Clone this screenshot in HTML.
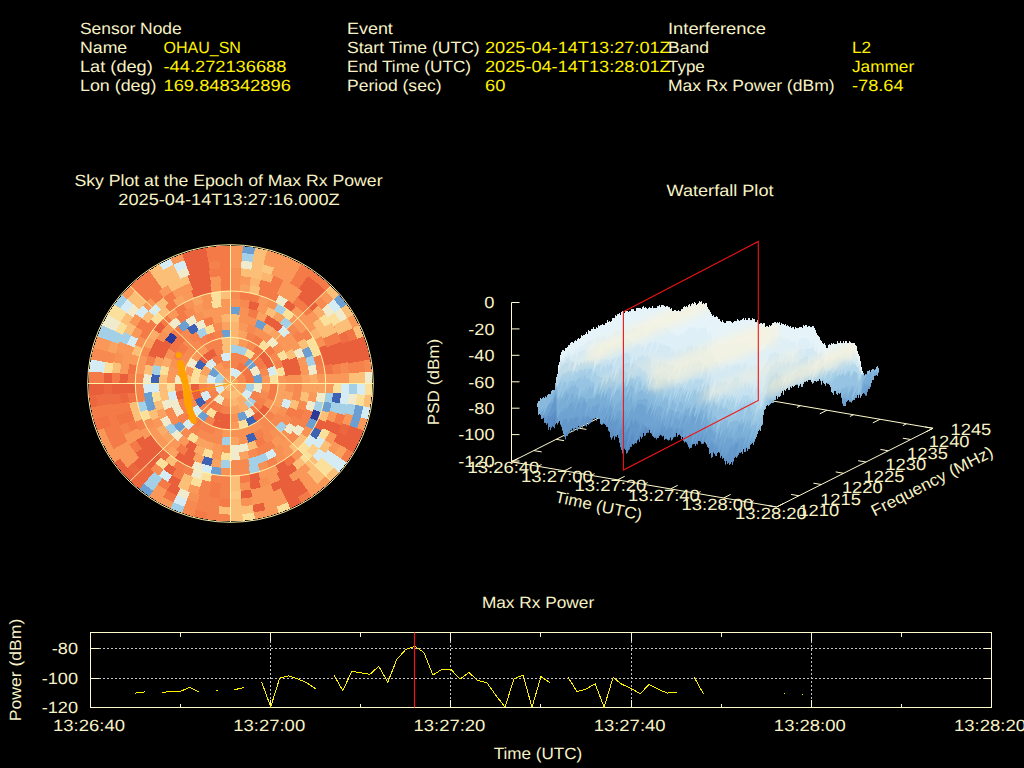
<!DOCTYPE html>
<html><head><meta charset="utf-8"><title>Interference Event</title>
<style>
html,body{margin:0;padding:0;background:#000;overflow:hidden}
svg{display:block}
text{font-family:"Liberation Sans",sans-serif;text-rendering:geometricPrecision;}
</style></head><body>
<svg width="1024" height="768" viewBox="0 0 1024 768">
<rect width="1024" height="768" fill="#000"/>
<text transform="translate(80.00,34.00)" x="0.00" y="0" textLength="101.72" lengthAdjust="spacingAndGlyphs" fill="#f7f2c6" font-size="16.3">Sensor Node</text>
<text transform="translate(80.00,53.00)" x="0.00" y="0" textLength="47.22" lengthAdjust="spacingAndGlyphs" fill="#f7f2c6" font-size="16.3">Name</text>
<text transform="translate(163.50,53.00)" x="0.00" y="0" textLength="77.42" lengthAdjust="spacingAndGlyphs" fill="#fff200" font-size="16.3">OHAU_SN</text>
<text transform="translate(80.00,72.00)" x="0.00" y="0" textLength="72.77" lengthAdjust="spacingAndGlyphs" fill="#f7f2c6" font-size="16.3">Lat (deg)</text>
<text transform="translate(163.50,72.00)" x="0.00" y="0" textLength="122.94" lengthAdjust="spacingAndGlyphs" fill="#fff200" font-size="16.3">-44.272136688</text>
<text transform="translate(80.00,91.00)" x="0.00" y="0" textLength="76.33" lengthAdjust="spacingAndGlyphs" fill="#f7f2c6" font-size="16.3">Lon (deg)</text>
<text transform="translate(163.50,91.00)" x="0.00" y="0" textLength="127.34" lengthAdjust="spacingAndGlyphs" fill="#fff200" font-size="16.3">169.848342896</text>
<text transform="translate(347.00,34.00)" x="0.00" y="0" textLength="45.84" lengthAdjust="spacingAndGlyphs" fill="#f7f2c6" font-size="16.3">Event</text>
<text transform="translate(347.00,53.00)" x="0.00" y="0" textLength="132.72" lengthAdjust="spacingAndGlyphs" fill="#f7f2c6" font-size="16.3">Start Time (UTC)</text>
<text transform="translate(485.00,53.00)" x="0.00" y="0" textLength="185.72" lengthAdjust="spacingAndGlyphs" fill="#fff200" font-size="16.3">2025-04-14T13:27:01Z</text>
<text transform="translate(347.00,72.00)" x="0.00" y="0" textLength="124.02" lengthAdjust="spacingAndGlyphs" fill="#f7f2c6" font-size="16.3">End Time (UTC)</text>
<text transform="translate(485.00,72.00)" x="0.00" y="0" textLength="185.72" lengthAdjust="spacingAndGlyphs" fill="#fff200" font-size="16.3">2025-04-14T13:28:01Z</text>
<text transform="translate(347.00,91.00)" x="0.00" y="0" textLength="94.50" lengthAdjust="spacingAndGlyphs" fill="#f7f2c6" font-size="16.3">Period (sec)</text>
<text transform="translate(485.00,91.00)" x="0.00" y="0" textLength="20.38" lengthAdjust="spacingAndGlyphs" fill="#fff200" font-size="16.3">60</text>
<text transform="translate(668.00,34.00)" x="0.00" y="0" textLength="97.91" lengthAdjust="spacingAndGlyphs" fill="#f7f2c6" font-size="16.3">Interference</text>
<text transform="translate(668.00,53.00)" x="0.00" y="0" textLength="41.09" lengthAdjust="spacingAndGlyphs" fill="#f7f2c6" font-size="16.3">Band</text>
<text transform="translate(852.00,53.00)" x="0.00" y="0" textLength="19.11" lengthAdjust="spacingAndGlyphs" fill="#fff200" font-size="16.3">L2</text>
<text transform="translate(668.00,72.00)" x="0.00" y="0" textLength="36.77" lengthAdjust="spacingAndGlyphs" fill="#f7f2c6" font-size="16.3">Type</text>
<text transform="translate(852.00,72.00)" x="0.00" y="0" textLength="62.14" lengthAdjust="spacingAndGlyphs" fill="#fff200" font-size="16.3">Jammer</text>
<text transform="translate(668.00,91.00)" x="0.00" y="0" textLength="166.61" lengthAdjust="spacingAndGlyphs" fill="#f7f2c6" font-size="16.3">Max Rx Power (dBm)</text>
<text transform="translate(852.00,91.00)" x="0.00" y="0" textLength="51.62" lengthAdjust="spacingAndGlyphs" fill="#fff200" font-size="16.3">-78.64</text>
<text transform="translate(228.50,186.00)" x="-154.08" y="0" textLength="308.16" lengthAdjust="spacingAndGlyphs" fill="#f7f2c6" font-size="16.3">Sky Plot at the Epoch of Max Rx Power</text>
<text transform="translate(229.00,205.00)" x="-110.69" y="0" textLength="221.38" lengthAdjust="spacingAndGlyphs" fill="#f7f2c6" font-size="16.3">2025-04-14T13:27:16.000Z</text>
<text transform="translate(720.00,196.00)" x="-53.48" y="0" textLength="106.97" lengthAdjust="spacingAndGlyphs" fill="#f7f2c6" font-size="16.3">Waterfall Plot</text>
<text transform="translate(538.00,608.00)" x="-56.14" y="0" textLength="112.28" lengthAdjust="spacingAndGlyphs" fill="#f7f2c6" font-size="16.3">Max Rx Power</text>
<text transform="translate(538.00,759.00)" x="-44.26" y="0" textLength="88.52" lengthAdjust="spacingAndGlyphs" fill="#f7f2c6" font-size="16.3">Time (UTC)</text>
<text transform="translate(21.00,670.00) rotate(-90)" x="-51.37" y="0" textLength="102.73" lengthAdjust="spacingAndGlyphs" fill="#f7f2c6" font-size="16.3">Power (dBm)</text>
<ellipse cx="230.5" cy="383.5" rx="141.3" ry="137.3" fill="#f58a50"/>
<g shape-rendering="crispEdges">
<path fill="#f99858" d="M230.5 245.7L242.9 246.2L242.3 252.9L230.5 252.4ZM267.2 250.4L279.0 254.0L276.6 260.3L265.4 256.9ZM279.0 254.0L290.4 258.6L287.5 264.7L276.6 260.3ZM290.4 258.6L301.4 264.1L297.9 270.0L287.5 264.7ZM353.3 314.6L359.0 325.3L352.7 328.1L347.3 318.0ZM367.5 419.2L363.7 430.6L357.2 428.3L360.8 417.4ZM330.8 481.0L321.6 489.1L317.2 483.9L325.9 476.2ZM321.6 489.1L311.8 496.4L307.9 490.9L317.2 483.9ZM279.0 513.0L267.2 516.6L265.4 510.1L276.6 506.7ZM267.2 516.6L255.1 519.2L253.9 512.6L265.4 510.1ZM170.6 508.4L159.6 502.9L163.1 497.0L173.5 502.3ZM159.6 502.9L149.2 496.4L153.1 490.9L163.1 497.0ZM114.3 462.6L107.7 452.4L113.7 449.0L120.0 458.7ZM107.7 452.4L102.0 441.7L108.3 438.9L113.7 449.0ZM102.0 441.7L97.3 430.6L103.8 428.3L108.3 438.9ZM93.5 347.8L97.3 336.4L103.8 338.7L100.2 349.6ZM121.9 294.9L130.2 286.0L135.1 290.8L127.2 299.2ZM170.6 258.6L182.0 254.0L184.4 260.3L173.5 264.7ZM230.5 252.4L242.3 252.9L241.6 260.6L230.5 260.1ZM265.4 256.9L276.6 260.3L273.9 267.6L263.4 264.3ZM276.6 260.3L287.5 264.7L284.1 271.7L273.9 267.6ZM287.5 264.7L297.9 270.0L294.0 276.7L284.1 271.7ZM325.9 290.8L333.8 299.2L327.7 304.2L320.3 296.3ZM317.2 483.9L307.9 490.9L303.3 484.6L312.1 478.0ZM287.5 502.3L276.6 506.7L273.9 499.4L284.1 495.3ZM276.6 506.7L265.4 510.1L263.4 502.7L273.9 499.4ZM163.1 497.0L153.1 490.9L157.7 484.6L167.0 490.3ZM127.2 467.8L120.0 458.7L126.5 454.3L133.3 462.8ZM120.0 458.7L113.7 449.0L120.6 445.2L126.5 454.3ZM100.2 349.6L103.8 338.7L111.2 341.3L107.9 351.6ZM230.5 260.1L241.6 260.6L240.9 268.3L230.5 267.8ZM273.9 267.6L284.1 271.7L280.8 278.7L271.2 274.8ZM284.1 271.7L294.0 276.7L290.0 283.3L280.8 278.7ZM353.1 415.4L349.8 425.7L342.3 423.1L345.4 413.4ZM340.4 445.2L334.5 454.3L328.0 449.8L333.6 441.3ZM312.1 478.0L303.3 484.6L298.8 478.2L307.0 472.1ZM284.1 495.3L273.9 499.4L271.2 492.2L280.8 488.3ZM273.9 499.4L263.4 502.7L261.3 495.2L271.2 492.2ZM263.4 502.7L252.5 505.0L251.2 497.4L261.3 495.2ZM133.3 462.8L126.5 454.3L133.0 449.8L139.3 457.8ZM126.5 454.3L120.6 445.2L127.4 441.3L133.0 449.8ZM283.5 280.0L293.1 285.2L289.0 291.7L280.0 286.9ZM293.1 285.2L302.2 291.2L297.4 297.3L289.0 291.7ZM349.0 372.8L349.5 383.5L341.6 383.5L341.1 373.5ZM337.0 435.1L331.7 444.4L324.9 440.3L329.9 431.6ZM310.7 469.0L302.2 475.8L297.4 469.7L305.3 463.3ZM302.2 475.8L293.1 481.8L289.0 475.3L297.4 469.7ZM273.5 491.4L263.1 494.8L260.9 487.3L270.6 484.2ZM263.1 494.8L252.4 497.2L250.9 489.6L260.9 487.3ZM197.9 494.8L187.5 491.4L190.4 484.2L200.1 487.3ZM129.3 444.4L124.0 435.1L131.1 431.6L136.1 440.3ZM116.0 351.8L119.5 341.7L126.9 344.5L123.7 354.0ZM129.3 322.6L135.5 313.8L141.9 318.4L136.1 326.7ZM142.6 305.6L150.3 298.0L155.7 303.7L148.4 310.8ZM158.8 291.2L167.9 285.2L172.0 291.7L163.6 297.3ZM240.7 276.0L250.9 277.4L249.5 285.0L240.0 283.7ZM280.0 286.9L289.0 291.7L284.8 298.3L276.5 293.8ZM289.0 291.7L297.4 297.3L292.7 303.5L284.8 298.3ZM312.6 310.8L319.1 318.4L312.8 323.1L306.7 316.0ZM341.1 373.5L341.6 383.5L333.6 383.5L333.2 374.3ZM337.3 413.0L334.1 422.5L326.7 419.7L329.7 410.9ZM280.0 480.1L270.6 484.2L267.8 477.0L276.5 473.2ZM136.1 440.3L131.1 431.6L138.2 428.2L142.8 436.3ZM119.9 373.5L121.3 363.7L129.1 365.1L127.8 374.3ZM121.3 363.7L123.7 354.0L131.3 356.1L129.1 365.1ZM123.7 354.0L126.9 344.5L134.3 347.3L131.3 356.1ZM131.1 335.4L136.1 326.7L142.8 330.7L138.2 338.8ZM172.0 291.7L181.0 286.9L184.5 293.8L176.2 298.3ZM181.0 286.9L190.4 282.8L193.2 290.0L184.5 293.8ZM210.1 277.4L220.3 276.0L221.0 283.7L211.5 285.0ZM295.9 306.0L303.4 312.6L297.8 318.1L290.9 312.0ZM303.4 312.6L310.2 319.9L304.1 324.8L297.8 318.1ZM310.2 319.9L316.3 327.8L309.7 332.1L304.1 324.8ZM333.1 373.7L333.6 383.5L325.7 383.5L325.2 374.4ZM333.6 383.5L333.1 393.3L325.2 392.6L325.7 383.5ZM303.4 454.4L295.9 461.0L290.9 455.0L297.8 448.9ZM279.1 471.9L270.0 476.1L266.9 469.0L275.4 465.1ZM270.0 476.1L260.4 479.4L258.1 472.0L266.9 469.0ZM144.7 439.2L139.5 430.8L146.5 427.1L151.3 434.9ZM129.3 363.9L131.8 354.4L139.4 356.6L137.1 365.4ZM181.9 295.1L191.0 290.9L194.1 298.0L185.6 301.9ZM210.4 285.2L220.4 283.7L221.2 291.4L211.9 292.7ZM259.9 295.5L269.2 299.0L266.0 306.0L257.5 302.8ZM294.2 314.7L301.2 321.6L295.4 326.7L288.9 320.5ZM301.2 321.6L307.5 329.1L301.1 333.6L295.4 326.7ZM325.2 373.8L325.7 383.5L317.8 383.5L317.3 374.6ZM294.2 452.3L286.5 458.4L281.8 452.1L288.9 446.5ZM166.8 452.3L159.8 445.4L165.6 440.3L172.1 446.5ZM159.8 445.4L153.5 437.9L159.9 433.4L165.6 440.3ZM153.5 437.9L148.1 429.8L154.9 425.9L159.9 433.4ZM135.8 373.8L137.4 364.3L145.1 365.9L143.7 374.6ZM137.4 364.3L140.0 354.9L147.5 357.3L145.1 365.9ZM166.8 314.7L174.5 308.6L179.2 314.9L172.1 320.5ZM259.3 303.4L268.4 307.1L264.9 314.0L256.7 310.7ZM317.2 393.0L315.6 402.4L307.8 400.7L309.3 392.1ZM292.2 443.5L284.9 449.8L280.0 443.8L286.6 438.0ZM176.1 449.8L168.8 443.5L174.4 438.0L181.0 443.8ZM156.6 428.6L151.9 420.3L159.0 417.0L163.3 424.5ZM162.3 330.6L168.8 323.5L174.4 329.0L168.5 335.4ZM192.6 307.1L201.7 303.4L204.3 310.7L196.1 314.0ZM220.7 299.2L230.5 298.7L230.5 306.4L221.6 306.9ZM289.9 332.4L295.8 339.7L289.3 344.1L283.9 337.5ZM295.8 339.7L300.7 347.7L293.7 351.2L289.3 344.1ZM304.7 356.2L307.5 365.0L299.8 366.9L297.3 358.9ZM307.5 365.0L309.3 374.2L301.4 375.1L299.8 366.9ZM283.1 441.2L275.6 447.0L271.1 440.6L277.8 435.4ZM220.9 460.0L211.5 458.4L213.4 450.9L221.9 452.4ZM185.4 447.0L177.9 441.2L183.2 435.4L189.9 440.6ZM202.4 311.4L211.5 308.6L213.4 316.1L205.2 318.6ZM211.5 308.6L220.9 307.0L221.9 314.6L213.4 316.1ZM220.9 307.0L230.5 306.4L230.5 314.1L221.9 314.6ZM281.0 334.4L287.1 341.3L280.9 345.9L275.4 339.9ZM287.1 341.3L292.3 348.8L285.5 352.7L280.9 345.9ZM221.2 452.3L212.0 450.5L214.1 443.1L222.2 444.7ZM212.0 316.5L221.2 314.7L222.2 322.3L214.1 323.9ZM239.5 322.4L248.4 324.3L246.1 331.7L238.4 330.1ZM167.0 383.5L167.7 374.7L175.5 375.8L175.0 383.5ZM167.7 374.7L169.6 366.1L177.2 368.3L175.5 375.8ZM285.3 375.1L286.0 383.5L278.1 383.5L277.5 376.3ZM280.0 408.0L275.4 415.2L269.0 410.7L272.9 404.5ZM230.5 437.5L221.8 436.8L223.1 429.2L230.5 429.8ZM175.7 375.1L177.7 366.8L185.2 369.2L183.5 376.3ZM239.8 338.1L244.3 339.2L248.7 340.8L245.7 347.9L242.0 346.6L238.2 345.7ZM239.8 428.9L235.2 429.5L230.5 429.8L230.5 422.1L234.4 421.9L238.2 421.3ZM183.8 374.5L184.9 370.1L186.5 365.8L193.9 368.7L192.5 372.3L191.6 376.0ZM190.9 357.8L193.7 354.1L196.8 350.8L202.5 356.2L199.8 359.0L197.5 362.1ZM196.8 350.8L200.3 347.7L204.1 345.0L208.5 351.4L205.3 353.7L202.5 356.2ZM269.2 374.9L269.9 379.2L270.2 383.5L262.2 383.5L262.0 380.0L261.4 376.6ZM270.2 383.5L269.9 387.8L269.2 392.1L261.4 390.4L262.0 387.0L262.2 383.5ZM213.7 367.1L217.3 364.3L221.4 362.1L224.4 369.3L221.7 370.7L219.3 372.6ZM219.3 372.6L221.7 370.7L224.4 369.3L227.4 368.4L230.5 368.1L230.5 375.8L229.0 375.9L227.5 376.4L226.1 377.1L224.9 378.0Z"/>
<path fill="#6b9fd1" d="M242.9 246.2L255.1 247.8L253.9 254.4L242.3 252.9ZM339.1 294.9L346.7 304.4L341.0 308.3L333.8 299.2ZM149.2 496.4L139.4 489.1L143.8 483.9L153.1 490.9ZM363.3 406.3L360.8 417.4L353.1 415.4L355.5 404.9ZM360.8 417.4L357.2 428.3L349.8 425.7L353.1 415.4ZM331.7 403.1L329.2 412.6L321.6 410.4L323.9 401.6ZM317.5 421.1L312.9 429.8L306.1 425.9L310.2 418.0ZM220.5 475.5L210.7 474.0L212.4 466.5L221.4 467.9ZM309.1 346.7L312.9 355.5L305.4 358.0L302.0 350.0ZM148.1 411.5L145.4 402.4L153.2 400.7L155.6 409.0ZM145.4 402.4L143.8 393.0L151.7 392.1L153.2 400.7ZM230.5 306.4L240.1 307.0L239.1 314.6L230.5 314.1ZM177.9 325.8L185.4 320.0L189.9 326.4L183.2 331.6ZM257.8 319.4L266.2 323.4L262.2 330.1L254.8 326.5ZM180.0 432.6L173.9 425.7L180.1 421.1L185.6 427.1ZM221.8 330.2L230.5 329.5L230.5 337.2L223.1 337.8ZM204.1 422.0L200.3 419.3L196.8 416.2L202.5 410.8L205.3 413.3L208.5 415.6ZM247.7 418.2L243.6 419.9L239.3 421.1L237.6 413.6L241.0 412.6L244.3 411.3ZM249.2 358.5L252.9 361.7L256.2 365.4L249.8 369.9L247.3 367.1L244.5 364.8ZM260.7 374.0L261.8 378.7L262.2 383.5L254.3 383.5L254.0 379.9L253.1 376.4ZM208.5 374.6L210.7 370.6L213.7 367.1L219.3 372.6L217.3 374.9L215.8 377.6Z"/>
<path fill="#fcbf77" d="M255.1 247.8L267.2 250.4L265.4 256.9L253.9 254.4ZM330.8 286.0L339.1 294.9L333.8 299.2L325.9 290.8ZM346.7 304.4L353.3 314.6L347.3 318.0L341.0 308.3ZM359.0 325.3L363.7 336.4L357.2 338.7L352.7 328.1ZM371.8 395.5L370.1 407.4L363.3 406.3L364.9 394.9ZM339.1 472.1L330.8 481.0L325.9 476.2L333.8 467.8ZM242.9 520.8L230.5 521.3L230.5 514.6L242.3 514.1ZM149.2 270.6L159.6 264.1L163.1 270.0L153.1 276.1ZM253.9 254.4L265.4 256.9L263.4 264.3L252.5 262.0ZM347.3 318.0L352.7 328.1L345.5 331.4L340.4 321.8ZM364.9 372.1L365.4 383.5L357.4 383.5L357.0 372.7ZM325.9 476.2L317.2 483.9L312.1 478.0L320.3 470.7ZM253.9 512.6L242.3 514.1L241.6 506.4L252.5 505.0ZM242.3 514.1L230.5 514.6L230.5 506.9L241.6 506.4ZM230.5 514.6L218.7 514.1L219.4 506.4L230.5 506.9ZM127.2 299.2L135.1 290.8L140.7 296.3L133.3 304.2ZM153.1 276.1L163.1 270.0L167.0 276.7L157.7 282.4ZM163.1 270.0L173.5 264.7L176.9 271.7L167.0 276.7ZM252.5 262.0L263.4 264.3L261.3 271.8L251.2 269.6ZM340.4 321.8L345.5 331.4L338.4 334.6L333.6 325.7ZM357.0 372.7L357.4 383.5L349.5 383.5L349.0 373.4ZM320.3 470.7L312.1 478.0L307.0 472.1L314.6 465.3ZM241.6 506.4L230.5 506.9L230.5 499.2L240.9 498.7ZM120.6 321.8L126.5 312.7L133.0 317.2L127.4 325.7ZM133.3 304.2L140.7 296.3L146.4 301.7L139.3 309.2ZM157.7 282.4L167.0 276.7L171.0 283.3L162.2 288.8ZM167.0 276.7L176.9 271.7L180.2 278.7L171.0 283.3ZM241.5 268.3L252.4 269.8L250.9 277.4L240.7 276.0ZM252.4 269.8L263.1 272.2L260.9 279.7L250.9 277.4ZM331.7 322.6L337.0 331.9L329.9 335.4L324.9 326.7ZM331.7 444.4L325.5 453.2L319.1 448.6L324.9 440.3ZM318.4 461.4L310.7 469.0L305.3 463.3L312.6 456.2ZM187.5 491.4L177.5 487.0L181.0 480.1L190.4 484.2ZM112.0 372.8L113.5 362.2L121.3 363.7L119.9 373.5ZM124.0 331.9L129.3 322.6L136.1 326.7L131.1 335.4ZM167.9 285.2L177.5 280.0L181.0 286.9L172.0 291.7ZM177.5 280.0L187.5 275.6L190.4 282.8L181.0 286.9ZM319.1 318.4L324.9 326.7L318.2 330.7L312.8 323.1ZM324.9 326.7L329.9 335.4L322.8 338.8L318.2 330.7ZM305.3 463.3L297.4 469.7L292.7 463.5L300.0 457.6ZM240.7 491.0L230.5 491.5L230.5 483.7L240.0 483.3ZM190.4 484.2L181.0 480.1L184.5 473.2L193.2 477.0ZM141.9 318.4L148.4 310.8L154.3 316.0L148.2 323.1ZM155.7 303.7L163.6 297.3L168.3 303.5L161.0 309.4ZM250.6 285.2L260.4 287.6L258.1 295.0L249.1 292.7ZM329.2 412.6L325.8 421.9L318.5 418.9L321.6 410.4ZM240.6 483.3L230.5 483.7L230.5 476.0L239.8 475.6ZM173.2 466.9L165.1 461.0L170.1 455.0L177.6 460.4ZM135.2 421.9L131.8 412.6L139.4 410.4L142.5 418.9ZM131.8 412.6L129.3 403.1L137.1 401.6L139.4 410.4ZM131.8 354.4L135.2 345.1L142.5 348.1L139.4 356.6ZM157.6 312.6L165.1 306.0L170.1 312.0L163.2 318.1ZM307.5 437.9L301.2 445.4L295.4 440.3L301.1 433.4ZM301.2 445.4L294.2 452.3L288.9 446.5L295.4 440.3ZM220.5 291.5L230.5 291.0L230.5 298.7L221.4 299.1ZM268.4 307.1L276.9 311.7L272.7 318.2L264.9 314.0ZM304.4 338.4L309.1 346.7L302.0 350.0L297.7 342.5ZM151.9 420.3L148.1 411.5L155.6 409.0L159.0 417.0ZM143.8 374.0L145.4 364.6L153.2 366.3L151.7 374.9ZM309.3 392.8L307.5 402.0L299.8 400.1L301.4 391.9ZM156.3 410.8L153.5 402.0L161.2 400.1L163.7 408.1ZM230.5 314.1L239.8 314.7L238.8 322.3L230.5 321.8ZM292.3 348.8L296.5 356.9L289.1 359.9L285.5 352.7ZM299.5 401.5L296.5 410.1L289.1 407.1L291.8 399.5ZM257.8 447.6L249.0 450.5L246.9 443.1L254.8 440.5ZM161.5 401.5L159.7 392.6L167.6 391.6L169.2 399.5ZM159.7 392.6L159.1 383.5L167.0 383.5L167.6 391.6ZM159.1 383.5L159.7 374.4L167.6 375.4L167.0 383.5ZM230.5 337.2L235.2 337.5L239.8 338.1L238.2 345.7L234.4 345.1L230.5 344.9ZM182.9 383.5L183.1 379.0L183.8 374.5L191.6 376.0L191.0 379.7L190.8 383.5ZM221.2 338.1L225.8 337.5L230.5 337.2L230.5 344.9L226.6 345.1L222.8 345.7ZM221.7 345.9L226.1 345.2L230.5 344.9L230.5 352.7L226.9 352.8L223.4 353.4ZM198.8 383.5L199.2 378.7L200.3 374.0L207.9 376.4L207.0 379.9L206.7 383.5ZM241.7 394.4L239.3 396.3L236.6 397.7L233.6 398.6L230.5 398.9L230.5 391.2L232.0 391.1L233.5 390.6L234.9 389.9L236.1 389.0Z"/>
<path fill="#f47b48" d="M301.4 264.1L311.8 270.6L307.9 276.1L297.9 270.0ZM311.8 270.6L321.6 277.9L317.2 283.1L307.9 276.1ZM321.6 277.9L330.8 286.0L325.9 290.8L317.2 283.1ZM353.3 452.4L346.7 462.6L341.0 458.7L347.3 449.0ZM311.8 496.4L301.4 502.9L297.9 497.0L307.9 490.9ZM205.9 519.2L193.8 516.6L195.6 510.1L207.1 512.6ZM93.5 419.2L90.9 407.4L97.7 406.3L100.2 417.4ZM88.7 383.5L89.2 371.5L96.1 372.1L95.6 383.5ZM130.2 286.0L139.4 277.9L143.8 283.1L135.1 290.8ZM139.4 277.9L149.2 270.6L153.1 276.1L143.8 283.1ZM205.9 247.8L218.1 246.2L218.7 252.9L207.1 254.4ZM218.1 246.2L230.5 245.7L230.5 252.4L218.7 252.9ZM297.9 270.0L307.9 276.1L303.3 282.4L294.0 276.7ZM113.7 449.0L108.3 438.9L115.5 435.6L120.6 445.2ZM108.3 438.9L103.8 428.3L111.2 425.7L115.5 435.6ZM100.2 417.4L97.7 406.3L105.5 404.9L107.9 415.4ZM95.6 383.5L96.1 372.1L104.0 372.7L103.6 383.5ZM135.1 290.8L143.8 283.1L148.9 289.0L140.7 296.3ZM143.8 283.1L153.1 276.1L157.7 282.4L148.9 289.0ZM207.1 254.4L218.7 252.9L219.4 260.6L208.5 262.0ZM218.7 252.9L230.5 252.4L230.5 260.1L219.4 260.6ZM294.0 276.7L303.3 282.4L298.8 288.8L290.0 283.3ZM230.5 506.9L219.4 506.4L220.1 498.7L230.5 499.2ZM167.0 490.3L157.7 484.6L162.2 478.2L171.0 483.7ZM120.6 445.2L115.5 435.6L122.6 432.4L127.4 441.3ZM115.5 435.6L111.2 425.7L118.7 423.1L122.6 432.4ZM111.2 425.7L107.9 415.4L115.6 413.4L118.7 423.1ZM107.9 415.4L105.5 404.9L113.3 403.6L115.6 413.4ZM140.7 296.3L148.9 289.0L154.0 294.9L146.4 301.7ZM148.9 289.0L157.7 282.4L162.2 288.8L154.0 294.9ZM219.4 260.6L230.5 260.1L230.5 267.8L220.1 268.3ZM273.5 275.6L283.5 280.0L280.0 286.9L270.6 282.8ZM337.0 331.9L341.5 341.7L334.1 344.5L329.9 335.4ZM345.0 415.2L341.5 425.3L334.1 422.5L337.3 413.0ZM219.5 498.7L208.6 497.2L210.1 489.6L220.3 491.0ZM135.5 453.2L129.3 444.4L136.1 440.3L141.9 448.6ZM116.0 415.2L113.5 404.8L121.3 403.3L123.7 413.0ZM111.5 383.5L112.0 372.8L119.9 373.5L119.4 383.5ZM150.3 298.0L158.8 291.2L163.6 297.3L155.7 303.7ZM208.6 269.8L219.5 268.3L220.3 276.0L210.1 277.4ZM219.5 268.3L230.5 267.8L230.5 275.5L220.3 276.0ZM260.9 279.7L270.6 282.8L267.8 290.0L258.7 287.1ZM270.6 282.8L280.0 286.9L276.5 293.8L267.8 290.0ZM297.4 297.3L305.3 303.7L300.0 309.4L292.7 303.5ZM305.3 303.7L312.6 310.8L306.7 316.0L300.0 309.4ZM329.9 335.4L334.1 344.5L326.7 347.3L322.8 338.8ZM220.3 491.0L210.1 489.6L211.5 482.0L221.0 483.3ZM181.0 480.1L172.0 475.3L176.2 468.7L184.5 473.2ZM131.1 431.6L126.9 422.5L134.3 419.7L138.2 428.2ZM123.7 413.0L121.3 403.3L129.1 401.9L131.3 410.9ZM136.1 326.7L141.9 318.4L148.2 323.1L142.8 330.7ZM163.6 297.3L172.0 291.7L176.2 298.3L168.3 303.5ZM220.3 276.0L230.5 275.5L230.5 283.3L221.0 283.7ZM260.4 287.6L270.0 290.9L266.9 298.0L258.1 295.0ZM270.0 290.9L279.1 295.1L275.4 301.9L266.9 298.0ZM250.6 481.8L240.6 483.3L239.8 475.6L249.1 474.3ZM181.9 471.9L173.2 466.9L177.6 460.4L185.6 465.1ZM127.4 383.5L127.9 373.7L135.8 374.4L135.3 383.5ZM139.5 336.2L144.7 327.8L151.3 332.1L146.5 339.9ZM144.7 327.8L150.8 319.9L156.9 324.8L151.3 332.1ZM165.1 306.0L173.2 300.1L177.6 306.6L170.1 312.0ZM220.4 283.7L230.5 283.3L230.5 291.0L221.2 291.4ZM240.5 291.5L250.3 293.0L248.6 300.5L239.6 299.1ZM250.3 293.0L259.9 295.5L257.5 302.8L248.6 300.5ZM321.0 354.9L323.6 364.3L315.9 365.9L313.5 357.3ZM159.8 321.6L166.8 314.7L172.1 320.5L165.6 326.7ZM174.5 308.6L182.9 303.4L186.9 310.0L179.2 314.9ZM184.1 455.3L176.1 449.8L181.0 443.8L188.3 448.8ZM176.1 317.2L184.1 311.7L188.3 318.2L181.0 323.2ZM249.5 308.6L258.6 311.4L255.8 318.6L247.6 316.1ZM304.7 410.8L300.7 419.3L293.7 415.8L297.3 408.1ZM171.1 332.4L177.9 325.8L183.2 331.6L177.1 337.5ZM296.5 410.1L292.3 418.2L285.5 414.3L289.1 407.1ZM266.2 443.6L257.8 447.6L254.8 440.5L262.2 436.9ZM203.2 319.4L212.0 316.5L214.1 323.9L206.2 326.5ZM177.1 350.1L182.5 343.1L188.5 348.2L183.8 354.3ZM255.7 335.4L263.1 339.8L258.5 346.1L252.1 342.3ZM269.8 345.3L275.4 351.8L269.0 356.3L264.2 350.8ZM197.9 427.2L191.2 421.7L196.8 416.2L202.5 420.9ZM175.7 391.9L175.0 383.5L182.9 383.5L183.5 390.7ZM205.3 335.4L213.3 332.2L215.8 339.5L208.9 342.3ZM278.1 383.5L277.9 388.0L277.2 392.5L269.4 391.0L270.0 387.3L270.2 383.5ZM277.2 392.5L276.1 396.9L274.5 401.2L267.1 398.3L268.5 394.7L269.4 391.0ZM255.2 353.4L258.5 356.2L261.5 359.5L255.3 364.3L252.9 361.7L250.3 359.4ZM261.5 359.5L264.1 363.0L266.2 366.8L259.1 370.1L257.4 367.1L255.3 364.3ZM261.5 407.5L258.5 410.8L255.2 413.6L250.3 407.6L252.9 405.3L255.3 402.7ZM220.7 412.8L216.1 411.0L211.8 408.5L216.5 402.2L219.7 404.1L223.1 405.5ZM211.8 358.5L216.1 356.0L220.7 354.2L223.1 361.5L219.7 362.9L216.5 364.8Z"/>
<path fill="#ea5f3b" d="M363.7 336.4L367.5 347.8L360.8 349.6L357.2 338.7ZM367.5 347.8L370.1 359.6L363.3 360.7L360.8 349.6ZM363.7 430.6L359.0 441.7L352.7 438.9L357.2 428.3ZM359.0 441.7L353.3 452.4L347.3 449.0L352.7 438.9ZM301.4 502.9L290.4 508.4L287.5 502.3L297.9 497.0ZM130.2 481.0L121.9 472.1L127.2 467.8L135.1 476.2ZM121.9 472.1L114.3 462.6L120.0 458.7L127.2 467.8ZM89.2 395.5L88.7 383.5L95.6 383.5L96.1 394.9ZM182.0 254.0L193.8 250.4L195.6 256.9L184.4 260.3ZM193.8 250.4L205.9 247.8L207.1 254.4L195.6 256.9ZM307.9 276.1L317.2 283.1L312.1 289.0L303.3 282.4ZM317.2 283.1L325.9 290.8L320.3 296.3L312.1 289.0ZM357.2 338.7L360.8 349.6L353.1 351.6L349.8 341.3ZM360.8 349.6L363.3 360.7L355.5 362.1L353.1 351.6ZM357.2 428.3L352.7 438.9L345.5 435.6L349.8 425.7ZM352.7 438.9L347.3 449.0L340.4 445.2L345.5 435.6ZM307.9 490.9L297.9 497.0L294.0 490.3L303.3 484.6ZM297.9 497.0L287.5 502.3L284.1 495.3L294.0 490.3ZM265.4 510.1L253.9 512.6L252.5 505.0L263.4 502.7ZM96.1 394.9L95.6 383.5L103.6 383.5L104.0 394.3ZM184.4 260.3L195.6 256.9L197.6 264.3L187.1 267.6ZM195.6 256.9L207.1 254.4L208.5 262.0L197.6 264.3ZM303.3 282.4L312.1 289.0L307.0 294.9L298.8 288.8ZM312.1 289.0L320.3 296.3L314.6 301.7L307.0 294.9ZM349.8 341.3L353.1 351.6L345.4 353.6L342.3 343.9ZM353.1 351.6L355.5 362.1L347.7 363.4L345.4 353.6ZM345.5 435.6L340.4 445.2L333.6 441.3L338.4 432.4ZM303.3 484.6L294.0 490.3L290.0 483.7L298.8 478.2ZM294.0 490.3L284.1 495.3L280.8 488.3L290.0 483.7ZM176.9 495.3L167.0 490.3L171.0 483.7L180.2 488.3ZM140.7 470.7L133.3 462.8L139.3 457.8L146.4 465.3ZM103.6 383.5L104.0 372.7L112.0 373.4L111.5 383.5ZM187.1 267.6L197.6 264.3L199.7 271.8L189.8 274.8ZM197.6 264.3L208.5 262.0L209.8 269.6L199.7 271.8ZM302.2 291.2L310.7 298.0L305.3 303.7L297.4 297.3ZM310.7 298.0L318.4 305.6L312.6 310.8L305.3 303.7ZM341.5 341.7L345.0 351.8L337.3 354.0L334.1 344.5ZM345.0 351.8L347.5 362.2L339.7 363.7L337.3 354.0ZM341.5 425.3L337.0 435.1L329.9 431.6L334.1 422.5ZM293.1 481.8L283.5 487.0L280.0 480.1L289.0 475.3ZM283.5 487.0L273.5 491.4L270.6 484.2L280.0 480.1ZM252.4 497.2L241.5 498.7L240.7 491.0L250.9 489.6ZM177.5 487.0L167.9 481.8L172.0 475.3L181.0 480.1ZM150.3 469.0L142.6 461.4L148.4 456.2L155.7 463.3ZM142.6 461.4L135.5 453.2L141.9 448.6L148.4 456.2ZM112.0 394.2L111.5 383.5L119.4 383.5L119.9 393.5ZM187.5 275.6L197.9 272.2L200.1 279.7L190.4 282.8ZM197.9 272.2L208.6 269.8L210.1 277.4L200.1 279.7ZM334.1 344.5L337.3 354.0L329.7 356.1L326.7 347.3ZM337.3 354.0L339.7 363.7L331.9 365.1L329.7 356.1ZM334.1 422.5L329.9 431.6L322.8 428.2L326.7 419.7ZM297.4 469.7L289.0 475.3L284.8 468.7L292.7 463.5ZM289.0 475.3L280.0 480.1L276.5 473.2L284.8 468.7ZM260.9 487.3L250.9 489.6L249.5 482.0L258.7 479.9ZM172.0 475.3L163.6 469.7L168.3 463.5L176.2 468.7ZM155.7 463.3L148.4 456.2L154.3 451.0L161.0 457.6ZM148.4 456.2L141.9 448.6L148.2 443.9L154.3 451.0ZM141.9 448.6L136.1 440.3L142.8 436.3L148.2 443.9ZM119.9 393.5L119.4 383.5L127.4 383.5L127.8 392.7ZM119.4 383.5L119.9 373.5L127.8 374.3L127.4 383.5ZM190.4 282.8L200.1 279.7L202.3 287.1L193.2 290.0ZM200.1 279.7L210.1 277.4L211.5 285.0L202.3 287.1ZM287.8 300.1L295.9 306.0L290.9 312.0L283.4 306.6ZM325.8 345.1L329.2 354.4L321.6 356.6L318.5 348.1ZM329.2 354.4L331.7 363.9L323.9 365.4L321.6 356.6ZM325.8 421.9L321.5 430.8L314.5 427.1L318.5 418.9ZM287.8 466.9L279.1 471.9L275.4 465.1L283.4 460.4ZM260.4 479.4L250.6 481.8L249.1 474.3L258.1 472.0ZM157.6 454.4L150.8 447.1L156.9 442.2L163.2 448.9ZM150.8 447.1L144.7 439.2L151.3 434.9L156.9 442.2ZM127.9 393.3L127.4 383.5L135.3 383.5L135.8 392.6ZM191.0 290.9L200.6 287.6L202.9 295.0L194.1 298.0ZM200.6 287.6L210.4 285.2L211.9 292.7L202.9 295.0ZM191.8 468.0L182.9 463.6L186.9 457.0L195.0 461.0ZM182.9 463.6L174.5 458.4L179.2 452.1L186.9 457.0ZM153.5 329.1L159.8 321.6L165.6 326.7L159.9 333.6ZM249.9 300.8L259.3 303.4L256.7 310.7L248.2 308.3ZM192.6 459.9L184.1 455.3L188.3 448.8L196.1 453.0ZM148.1 355.5L151.9 346.7L159.0 350.0L155.6 358.0ZM151.9 346.7L156.6 338.4L163.3 342.5L159.0 350.0ZM267.4 315.2L275.6 320.0L271.1 326.4L263.7 322.0ZM275.6 320.0L283.1 325.8L277.8 331.6L271.1 326.4ZM193.6 451.8L185.4 447.0L189.9 440.6L197.3 445.0ZM156.3 356.2L160.3 347.7L167.3 351.2L163.7 358.9ZM160.3 347.7L165.2 339.7L171.7 344.1L167.3 351.2ZM296.5 356.9L299.5 365.5L291.8 367.5L289.1 359.9ZM299.5 365.5L301.3 374.4L293.4 375.4L291.8 367.5ZM288.2 357.9L291.4 366.1L283.8 368.3L281.0 361.1ZM291.4 366.1L293.3 374.7L285.5 375.8L283.8 368.3ZM177.7 400.2L175.7 391.9L183.5 390.7L185.2 397.8ZM264.2 350.8L267.3 354.1L270.1 357.8L263.5 362.1L261.2 359.0L258.5 356.2ZM270.1 357.8L272.5 361.7L274.5 365.8L267.1 368.7L265.5 365.3L263.5 362.1ZM270.1 409.2L267.3 412.9L264.2 416.2L258.5 410.8L261.2 408.0L263.5 404.9ZM264.2 416.2L260.7 419.3L256.9 422.0L252.5 415.6L255.7 413.3L258.5 410.8ZM230.5 429.8L225.8 429.5L221.2 428.9L222.8 421.3L226.6 421.9L230.5 422.1ZM221.2 428.9L216.7 427.8L212.3 426.2L215.3 419.1L219.0 420.4L222.8 421.3ZM230.5 422.1L226.1 421.8L221.7 421.1L223.4 413.6L226.9 414.2L230.5 414.3ZM221.7 421.1L217.4 419.9L213.3 418.2L216.7 411.3L220.0 412.6L223.4 413.6ZM194.8 400.2L193.1 396.2L191.8 392.1L199.6 390.4L200.5 393.7L201.9 396.9ZM191.8 392.1L191.1 387.8L190.8 383.5L198.8 383.5L199.0 387.0L199.6 390.4ZM199.5 359.5L202.5 356.2L205.8 353.4L210.7 359.4L208.1 361.7L205.7 364.3ZM205.8 353.4L209.4 350.9L213.3 348.8L216.7 355.7L213.6 357.4L210.7 359.4Z"/>
<path fill="#f68a50" d="M370.1 359.6L371.8 371.5L364.9 372.1L363.3 360.7ZM193.8 516.6L182.0 513.0L184.4 506.7L195.6 510.1ZM90.9 359.6L93.5 347.8L100.2 349.6L97.7 360.7ZM195.6 510.1L184.4 506.7L187.1 499.4L197.6 502.7ZM97.7 360.7L100.2 349.6L107.9 351.6L105.5 362.1ZM320.3 296.3L327.7 304.2L321.7 309.2L314.6 301.7ZM105.5 362.1L107.9 351.6L115.6 353.6L113.3 363.4ZM347.5 362.2L349.0 372.8L341.1 373.5L339.7 363.7ZM158.8 475.8L150.3 469.0L155.7 463.3L163.6 469.7ZM230.5 291.0L240.5 291.5L239.6 299.1L230.5 298.7ZM250.3 474.0L240.5 475.5L239.6 467.9L248.6 466.5ZM240.5 475.5L230.5 476.0L230.5 468.3L239.6 467.9ZM135.3 383.5L135.8 373.8L143.7 374.6L143.2 383.5ZM140.0 354.9L143.5 345.9L150.8 349.0L147.5 357.3ZM240.3 299.2L249.9 300.8L248.2 308.3L239.4 306.9ZM292.2 323.5L298.7 330.6L292.5 335.4L286.6 329.0ZM298.7 436.4L292.2 443.5L286.6 438.0L292.5 431.6ZM249.9 466.2L240.3 467.8L239.4 460.1L248.2 458.7ZM240.3 467.8L230.5 468.3L230.5 460.6L239.4 460.1ZM184.1 311.7L192.6 307.1L196.1 314.0L188.3 318.2ZM307.5 402.0L304.7 410.8L297.3 408.1L299.8 400.1ZM258.6 455.6L249.5 458.4L247.6 450.9L255.8 448.4ZM301.9 383.5L301.3 392.6L293.4 391.6L294.0 383.5ZM301.3 392.6L299.5 401.5L291.8 399.5L293.4 391.6ZM292.3 418.2L287.1 425.7L280.9 421.1L285.5 414.3ZM274.0 438.6L266.2 443.6L262.2 436.9L269.1 432.4ZM187.0 438.6L180.0 432.6L185.6 427.1L191.9 432.4ZM173.9 425.7L168.7 418.2L175.5 414.3L180.1 421.1ZM168.7 418.2L164.5 410.1L171.9 407.1L175.5 414.3ZM180.0 334.4L187.0 328.4L191.9 334.6L185.6 339.9ZM248.4 324.3L256.9 327.4L253.6 334.4L246.1 331.7ZM283.9 416.9L278.5 423.9L272.5 418.8L277.2 412.7ZM278.5 423.9L272.1 430.1L266.9 424.3L272.5 418.8ZM272.1 430.1L264.8 435.4L260.5 428.9L266.9 424.3ZM221.5 444.6L212.6 442.7L214.9 435.3L222.6 436.9ZM212.6 442.7L204.1 439.6L207.4 432.6L214.9 435.3ZM204.1 439.6L196.2 435.4L200.5 428.9L207.4 432.6ZM182.5 343.1L188.9 336.9L194.1 342.7L188.5 348.2ZM212.6 324.3L221.5 322.4L222.6 330.1L214.9 331.7ZM275.4 351.8L280.0 359.0L272.9 362.5L269.0 356.3ZM269.8 421.7L263.1 427.2L258.5 420.9L264.2 416.2ZM221.8 436.8L213.3 434.8L215.8 427.5L223.1 429.2ZM181.0 359.0L185.6 351.8L192.0 356.3L188.1 362.5ZM185.6 351.8L191.2 345.3L196.8 350.8L192.0 356.3ZM191.2 345.3L197.9 339.8L202.5 346.1L196.8 350.8ZM248.7 340.8L252.9 342.7L256.9 345.0L252.5 351.4L249.2 349.5L245.7 347.9ZM190.9 409.2L188.5 405.3L186.5 401.2L193.9 398.3L195.5 401.7L197.5 404.9ZM266.2 366.8L267.9 370.8L269.2 374.9L261.4 376.6L260.5 373.3L259.1 370.1ZM269.2 392.1L267.9 396.2L266.2 400.2L259.1 396.9L260.5 393.7L261.4 390.4ZM208.5 392.4L207.2 388.0L206.7 383.5L214.6 383.5L214.9 386.5L215.8 389.4ZM221.4 362.1L225.9 360.8L230.5 360.4L230.5 368.1L227.4 368.4L224.4 369.3ZM241.7 372.6L243.7 374.9L245.2 377.6L246.1 380.5L246.4 383.5L238.4 383.5L238.3 382.0L237.8 380.5L237.1 379.2L236.1 378.0Z"/>
<path fill="#f0ebcd" d="M371.8 371.5L372.3 383.5L365.4 383.5L364.9 372.1ZM102.0 325.3L107.7 314.6L113.7 318.0L108.3 328.1ZM341.0 308.3L347.3 318.0L340.4 321.8L334.5 312.7ZM108.3 328.1L113.7 318.0L120.6 321.8L115.5 331.4ZM241.6 260.6L252.5 262.0L251.2 269.6L240.9 268.3ZM327.7 304.2L334.5 312.7L328.0 317.2L321.7 309.2ZM357.0 394.3L355.5 404.9L347.7 403.6L349.0 393.6ZM187.1 499.4L176.9 495.3L180.2 488.3L189.8 492.2ZM126.5 312.7L133.3 304.2L139.3 309.2L133.0 317.2ZM176.9 271.7L187.1 267.6L189.8 274.8L180.2 278.7ZM279.1 295.1L287.8 300.1L283.4 306.6L275.4 301.9ZM200.6 479.4L191.0 476.1L194.1 469.0L202.9 472.0ZM325.2 393.2L323.6 402.7L315.9 401.1L317.3 392.4ZM201.1 471.5L191.8 468.0L195.0 461.0L203.5 464.2ZM315.6 364.6L317.2 374.0L309.3 374.9L307.8 366.3ZM315.6 402.4L312.9 411.5L305.4 409.0L307.8 400.7ZM304.4 428.6L298.7 436.4L292.5 431.6L297.7 424.5ZM143.2 383.5L143.8 374.0L151.7 374.9L151.2 383.5ZM168.8 323.5L176.1 317.2L181.0 323.2L174.4 329.0ZM300.7 347.7L304.7 356.2L297.3 358.9L293.7 351.2ZM295.8 427.3L289.9 434.6L283.9 429.5L289.3 422.9ZM240.1 460.0L230.5 460.6L230.5 452.9L239.1 452.4ZM177.9 441.2L171.1 434.6L177.1 429.5L183.2 435.4ZM165.2 427.3L160.3 419.3L167.3 415.8L171.7 422.9ZM185.4 320.0L193.6 315.2L197.3 322.0L189.9 326.4ZM249.0 450.5L239.8 452.3L238.8 444.7L246.9 443.1ZM239.8 452.3L230.5 452.9L230.5 445.2L238.8 444.7ZM164.5 410.1L161.5 401.5L169.2 399.5L171.9 407.1ZM194.8 323.4L203.2 319.4L206.2 326.5L198.8 330.1ZM272.1 336.9L278.5 343.1L272.5 348.2L266.9 342.7ZM177.1 416.9L172.8 409.1L180.0 405.9L183.8 412.7ZM172.8 409.1L169.6 400.9L177.2 398.7L180.0 405.9ZM175.0 383.5L175.7 375.1L183.5 376.3L182.9 383.5ZM186.5 365.8L188.5 361.7L190.9 357.8L197.5 362.1L195.5 365.3L193.9 368.7ZM255.2 413.6L251.6 416.1L247.7 418.2L244.3 411.3L247.4 409.6L250.3 407.6ZM256.2 365.4L258.8 369.5L260.7 374.0L253.1 376.4L251.7 373.0L249.8 369.9ZM262.2 383.5L261.8 388.3L260.7 393.0L253.1 390.6L254.0 387.1L254.3 383.5ZM221.4 404.9L217.3 402.7L213.7 399.9L219.3 394.4L221.7 396.3L224.4 397.7Z"/>
<path fill="#fbe09b" d="M372.3 383.5L371.8 395.5L364.9 394.9L365.4 383.5ZM290.4 508.4L279.0 513.0L276.6 506.7L287.5 502.3ZM255.1 519.2L242.9 520.8L242.3 514.1L253.9 512.6ZM107.7 314.6L114.3 304.4L120.0 308.3L113.7 318.0ZM364.9 394.9L363.3 406.3L355.5 404.9L357.0 394.3ZM333.8 467.8L325.9 476.2L320.3 470.7L327.7 462.8ZM113.7 318.0L120.0 308.3L126.5 312.7L120.6 321.8ZM334.5 312.7L340.4 321.8L333.6 325.7L328.0 317.2ZM327.7 462.8L320.3 470.7L314.6 465.3L321.7 457.8ZM104.0 372.7L105.5 362.1L113.3 363.4L112.0 373.4ZM115.5 331.4L120.6 321.8L127.4 325.7L122.6 334.6ZM325.5 313.8L331.7 322.6L324.9 326.7L319.1 318.4ZM341.6 383.5L341.1 393.5L333.2 392.7L333.6 383.5ZM329.9 431.6L324.9 440.3L318.2 436.3L322.8 428.2ZM312.6 456.2L305.3 463.3L300.0 457.6L306.7 451.0ZM200.1 487.3L190.4 484.2L193.2 477.0L202.3 479.9ZM163.6 469.7L155.7 463.3L161.0 457.6L168.3 463.5ZM310.2 447.1L303.4 454.4L297.8 448.9L304.1 442.2ZM210.4 481.8L200.6 479.4L202.9 472.0L211.9 474.3ZM150.8 319.9L157.6 312.6L163.2 318.1L156.9 324.8ZM286.5 308.6L294.2 314.7L288.9 320.5L281.8 314.9ZM312.9 337.2L317.5 345.9L310.2 349.0L306.1 341.1ZM317.5 345.9L321.0 354.9L313.5 357.3L310.2 349.0ZM143.5 421.1L140.0 412.1L147.5 409.7L150.8 418.0ZM210.7 293.0L220.5 291.5L221.4 299.1L212.4 300.5ZM211.1 300.8L220.7 299.2L221.6 306.9L212.8 308.3ZM230.5 460.6L220.9 460.0L221.9 452.4L230.5 452.9ZM211.5 458.4L202.4 455.6L205.2 448.4L213.4 450.9ZM153.5 402.0L151.7 392.8L159.6 391.9L161.2 400.1ZM194.8 443.6L187.0 438.6L191.9 432.4L198.8 436.9ZM159.7 374.4L161.5 365.5L169.2 367.5L167.6 375.4ZM283.9 350.1L288.2 357.9L281.0 361.1L277.2 354.3ZM167.7 392.3L167.0 383.5L175.0 383.5L175.5 391.2ZM204.1 327.4L212.6 324.3L214.9 331.7L207.4 334.4ZM263.1 339.8L269.8 345.3L264.2 350.8L258.5 346.1ZM283.3 366.8L285.3 375.1L277.5 376.3L275.8 369.2ZM277.2 374.5L277.9 379.0L278.1 383.5L270.2 383.5L270.0 379.7L269.4 376.0ZM248.7 426.2L244.3 427.8L239.8 428.9L238.2 421.3L242.0 420.4L245.7 419.1ZM247.7 348.8L251.6 350.9L255.2 353.4L250.3 359.4L247.4 357.4L244.3 355.7ZM213.3 418.2L209.4 416.1L205.8 413.6L210.7 407.6L213.6 409.6L216.7 411.3ZM190.8 383.5L191.1 379.2L191.8 374.9L199.6 376.6L199.0 380.0L198.8 383.5ZM191.8 374.9L193.1 370.8L194.8 366.8L201.9 370.1L200.5 373.3L199.6 376.6Z"/>
<path fill="#d5ecf4" d="M370.1 407.4L367.5 419.2L360.8 417.4L363.3 406.3ZM346.7 462.6L339.1 472.1L333.8 467.8L341.0 458.7ZM89.2 371.5L90.9 359.6L97.7 360.7L96.1 372.1ZM159.6 264.1L170.6 258.6L173.5 264.7L163.1 270.0ZM333.8 299.2L341.0 308.3L334.5 312.7L327.7 304.2ZM365.4 383.5L364.9 394.9L357.0 394.3L357.4 383.5ZM341.0 458.7L333.8 467.8L327.7 462.8L334.5 454.3ZM184.4 506.7L173.5 502.3L176.9 495.3L187.1 499.4ZM96.1 372.1L97.7 360.7L105.5 362.1L104.0 372.7ZM120.0 308.3L127.2 299.2L133.3 304.2L126.5 312.7ZM173.5 264.7L184.4 260.3L187.1 267.6L176.9 271.7ZM334.5 454.3L327.7 462.8L321.7 457.8L328.0 449.8ZM349.5 383.5L349.0 394.2L341.1 393.5L341.6 383.5ZM349.0 394.2L347.5 404.8L339.7 403.3L341.1 393.5ZM325.5 453.2L318.4 461.4L312.6 456.2L319.1 448.6ZM167.9 481.8L158.8 475.8L163.6 469.7L172.0 475.3ZM135.5 313.8L142.6 305.6L148.4 310.8L141.9 318.4ZM324.9 440.3L319.1 448.6L312.8 443.9L318.2 436.3ZM126.9 344.5L131.1 335.4L138.2 338.8L134.3 347.3ZM148.4 310.8L155.7 303.7L161.0 309.4L154.3 316.0ZM316.3 439.2L310.2 447.1L304.1 442.2L309.7 434.9ZM210.7 474.0L201.1 471.5L203.5 464.2L212.4 466.5ZM276.9 455.3L268.4 459.9L264.9 453.0L272.7 448.8ZM143.8 393.0L143.2 383.5L151.2 383.5L151.7 392.1ZM283.1 325.8L289.9 332.4L283.9 337.5L277.8 331.6ZM151.7 392.8L151.2 383.5L159.1 383.5L159.6 391.9ZM291.4 400.9L288.2 409.1L281.0 405.9L283.8 398.7ZM188.9 430.1L182.5 423.9L188.5 418.8L194.1 424.3ZM169.6 400.9L167.7 392.3L175.5 391.2L177.2 398.7ZM274.5 365.8L276.1 370.1L277.2 374.5L269.4 376.0L268.5 372.3L267.1 368.7ZM196.8 416.2L193.7 412.9L190.9 409.2L197.5 404.9L199.8 408.0L202.5 410.8ZM204.8 401.6L202.2 397.5L200.3 393.0L207.9 390.6L209.3 394.0L211.2 397.1ZM204.8 365.4L208.1 361.7L211.8 358.5L216.5 364.8L213.7 367.1L211.2 369.9ZM220.7 354.2L225.5 353.0L230.5 352.7L230.5 360.4L226.8 360.7L223.1 361.5ZM252.5 392.4L250.3 396.4L247.3 399.9L241.7 394.4L243.7 392.1L245.2 389.4ZM206.7 383.5L207.2 379.0L208.5 374.6L215.8 377.6L214.9 380.5L214.6 383.5ZM230.5 368.1L233.6 368.4L236.6 369.3L239.3 370.7L241.7 372.6L236.1 378.0L234.9 377.1L233.5 376.4L232.0 375.9L230.5 375.8ZM219.3 394.4L217.3 392.1L215.8 389.4L214.9 386.5L214.6 383.5L222.6 383.5L222.7 385.0L223.2 386.5L223.9 387.8L224.9 389.0Z"/>
<path fill="#f5824c" d="M230.5 521.3L218.1 520.8L218.7 514.1L230.5 514.6ZM218.1 520.8L205.9 519.2L207.1 512.6L218.7 514.1ZM363.3 360.7L364.9 372.1L357.0 372.7L355.5 362.1ZM218.7 514.1L207.1 512.6L208.5 505.0L219.4 506.4ZM207.1 512.6L195.6 510.1L197.6 502.7L208.5 505.0ZM355.5 362.1L357.0 372.7L349.0 373.4L347.7 363.4ZM219.4 506.4L208.5 505.0L209.8 497.4L220.1 498.7ZM208.5 505.0L197.6 502.7L199.7 495.2L209.8 497.4ZM208.5 262.0L219.4 260.6L220.1 268.3L209.8 269.6ZM230.5 499.2L219.5 498.7L220.3 491.0L230.5 491.5ZM208.6 497.2L197.9 494.8L200.1 487.3L210.1 489.6ZM124.0 435.1L119.5 425.3L126.9 422.5L131.1 431.6ZM339.7 363.7L341.1 373.5L333.2 374.3L331.9 365.1ZM230.5 491.5L220.3 491.0L221.0 483.3L230.5 483.7ZM210.1 489.6L200.1 487.3L202.3 479.9L211.5 482.0ZM230.5 483.7L220.4 483.3L221.2 475.6L230.5 476.0ZM220.4 483.3L210.4 481.8L211.9 474.3L221.2 475.6ZM191.0 476.1L181.9 471.9L185.6 465.1L194.1 469.0ZM139.5 430.8L135.2 421.9L142.5 418.9L146.5 427.1ZM307.5 329.1L312.9 337.2L306.1 341.1L301.1 333.6ZM323.6 364.3L325.2 373.8L317.3 374.6L315.9 365.9ZM278.1 463.6L269.2 468.0L266.0 461.0L274.1 457.0ZM137.4 402.7L135.8 393.2L143.7 392.4L145.1 401.1ZM135.8 393.2L135.3 383.5L143.2 383.5L143.7 392.4ZM298.7 330.6L304.4 338.4L297.7 342.5L292.5 335.4ZM312.9 411.5L309.1 420.3L302.0 417.0L305.4 409.0ZM309.1 420.3L304.4 428.6L297.7 424.5L302.0 417.0ZM145.4 364.6L148.1 355.5L155.6 358.0L153.2 366.3ZM300.7 419.3L295.8 427.3L289.3 422.9L293.7 415.8ZM275.6 447.0L267.4 451.8L263.7 445.0L271.1 440.6ZM267.4 451.8L258.6 455.6L255.8 448.4L263.7 445.0ZM264.8 435.4L256.9 439.6L253.6 432.6L260.5 428.9ZM196.2 435.4L188.9 430.1L194.1 424.3L200.5 428.9ZM182.5 423.9L177.1 416.9L183.8 412.7L188.5 418.8ZM172.8 357.9L177.1 350.1L183.8 354.3L180.0 361.1ZM188.9 336.9L196.2 331.6L200.5 338.1L194.1 342.7ZM247.7 332.2L255.7 335.4L252.1 342.3L245.2 339.5ZM280.0 359.0L283.3 366.8L275.8 369.2L272.9 362.5ZM275.4 415.2L269.8 421.7L264.2 416.2L269.0 410.7ZM213.3 434.8L205.3 431.6L208.9 424.7L215.8 427.5ZM205.3 431.6L197.9 427.2L202.5 420.9L208.9 424.7ZM185.6 415.2L181.0 408.0L188.1 404.5L192.0 410.7ZM181.0 408.0L177.7 400.2L185.2 397.8L188.1 404.5ZM197.9 339.8L205.3 335.4L208.9 342.3L202.5 346.1ZM213.3 332.2L221.8 330.2L223.1 337.8L215.8 339.5ZM212.3 426.2L208.1 424.3L204.1 422.0L208.5 415.6L211.8 417.5L215.3 419.1ZM204.1 345.0L208.1 342.7L212.3 340.8L215.3 347.9L211.8 349.5L208.5 351.4ZM212.3 340.8L216.7 339.2L221.2 338.1L222.8 345.7L219.0 346.6L215.3 347.9ZM266.2 400.2L264.1 404.0L261.5 407.5L255.3 402.7L257.4 399.9L259.1 396.9ZM205.8 413.6L202.5 410.8L199.5 407.5L205.7 402.7L208.1 405.3L210.7 407.6ZM213.3 348.8L217.4 347.1L221.7 345.9L223.4 353.4L220.0 354.4L216.7 355.7ZM230.5 352.7L235.5 353.0L240.3 354.2L237.9 361.5L234.2 360.7L230.5 360.4ZM240.3 354.2L244.9 356.0L249.2 358.5L244.5 364.8L241.3 362.9L237.9 361.5ZM260.7 393.0L258.8 397.5L256.2 401.6L249.8 397.1L251.7 394.0L253.1 390.6ZM230.5 414.3L225.5 414.0L220.7 412.8L223.1 405.5L226.8 406.3L230.5 406.6ZM200.3 393.0L199.2 388.3L198.8 383.5L206.7 383.5L207.0 387.1L207.9 390.6ZM230.5 360.4L235.1 360.8L239.6 362.1L236.6 369.3L233.6 368.4L230.5 368.1ZM213.7 399.9L210.7 396.4L208.5 392.4L215.8 389.4L217.3 392.1L219.3 394.4Z"/>
<path fill="#a3cfe7" d="M182.0 513.0L170.6 508.4L173.5 502.3L184.4 506.7ZM97.3 336.4L102.0 325.3L108.3 328.1L103.8 338.7ZM114.3 304.4L121.9 294.9L127.2 299.2L120.0 308.3ZM242.3 252.9L253.9 254.4L252.5 262.0L241.6 260.6ZM153.1 490.9L143.8 483.9L148.9 478.0L157.7 484.6ZM103.8 338.7L108.3 328.1L115.5 331.4L111.2 341.3ZM357.4 383.5L357.0 394.3L349.0 393.6L349.5 383.5ZM355.5 404.9L353.1 415.4L345.4 413.4L347.7 403.6ZM157.7 484.6L148.9 478.0L154.0 472.1L162.2 478.2ZM111.2 341.3L115.5 331.4L122.6 334.6L118.7 343.9ZM347.5 404.8L345.0 415.2L337.3 413.0L339.7 403.3ZM119.5 341.7L124.0 331.9L131.1 335.4L126.9 344.5ZM339.7 403.3L337.3 413.0L329.7 410.9L331.9 401.9ZM333.1 393.3L331.7 403.1L323.9 401.6L325.2 392.6ZM278.1 303.4L286.5 308.6L281.8 314.9L274.1 310.0ZM323.6 402.7L321.0 412.1L313.5 409.7L315.9 401.1ZM259.9 471.5L250.3 474.0L248.6 466.5L257.5 464.2ZM140.0 412.1L137.4 402.7L145.1 401.1L147.5 409.7ZM284.9 317.2L292.2 323.5L286.6 329.0L280.0 323.2ZM312.9 355.5L315.6 364.6L307.8 366.3L305.4 358.0ZM268.4 459.9L259.3 463.6L256.7 456.3L264.9 453.0ZM259.3 463.6L249.9 466.2L248.2 458.7L256.7 456.3ZM230.5 468.3L220.7 467.8L221.6 460.1L230.5 460.6ZM171.1 434.6L165.2 427.3L171.7 422.9L177.1 429.5ZM151.7 374.2L153.5 365.0L161.2 366.9L159.6 375.1ZM287.1 425.7L281.0 432.6L275.4 427.1L280.9 421.1ZM230.5 445.2L221.5 444.6L222.6 436.9L230.5 437.5ZM196.2 331.6L204.1 327.4L207.4 334.4L200.5 338.1ZM230.5 344.9L234.9 345.2L239.3 345.9L237.6 353.4L234.1 352.8L230.5 352.7ZM239.3 345.9L243.6 347.1L247.7 348.8L244.3 355.7L241.0 354.4L237.6 353.4ZM256.2 401.6L252.9 405.3L249.2 408.5L244.5 402.2L247.3 399.9L249.8 397.1ZM254.3 383.5L253.8 388.0L252.5 392.4L245.2 389.4L246.1 386.5L246.4 383.5ZM214.6 383.5L214.9 380.5L215.8 377.6L217.3 374.9L219.3 372.6L224.9 378.0L223.9 379.2L223.2 380.5L222.7 382.0L222.6 383.5Z"/>
<path fill="#ec663e" d="M139.4 489.1L130.2 481.0L135.1 476.2L143.8 483.9ZM90.9 407.4L89.2 395.5L96.1 394.9L97.7 406.3ZM143.8 483.9L135.1 476.2L140.7 470.7L148.9 478.0ZM135.1 476.2L127.2 467.8L133.3 462.8L140.7 470.7ZM349.8 425.7L345.5 435.6L338.4 432.4L342.3 423.1ZM148.9 478.0L140.7 470.7L146.4 465.3L154.0 472.1ZM104.0 394.3L103.6 383.5L111.5 383.5L112.0 393.6ZM121.3 403.3L119.9 393.5L127.8 392.7L129.1 401.9Z"/>
<path fill="#f27445" d="M97.3 430.6L93.5 419.2L100.2 417.4L103.8 428.3ZM352.7 328.1L357.2 338.7L349.8 341.3L345.5 331.4ZM173.5 502.3L163.1 497.0L167.0 490.3L176.9 495.3ZM103.8 428.3L100.2 417.4L107.9 415.4L111.2 425.7ZM119.5 425.3L116.0 415.2L123.7 413.0L126.9 422.5ZM126.9 422.5L123.7 413.0L131.3 410.9L134.3 419.7ZM331.7 363.9L333.1 373.7L325.2 374.4L323.9 365.4ZM295.9 461.0L287.8 466.9L283.4 460.4L290.9 455.0ZM129.3 403.1L127.9 393.3L135.8 392.6L137.1 401.6ZM127.9 373.7L129.3 363.9L137.1 365.4L135.8 374.4ZM168.7 348.8L173.9 341.3L180.1 345.9L175.5 352.7ZM173.9 341.3L180.0 334.4L185.6 339.9L180.1 345.9ZM191.2 421.7L185.6 415.2L192.0 410.7L196.8 416.2ZM256.9 345.0L260.7 347.7L264.2 350.8L258.5 356.2L255.7 353.7L252.5 351.4ZM211.8 408.5L208.1 405.3L204.8 401.6L211.2 397.1L213.7 399.9L216.5 402.2ZM239.6 362.1L243.7 364.3L247.3 367.1L241.7 372.6L239.3 370.7L236.6 369.3ZM247.3 367.1L250.3 370.6L252.5 374.6L245.2 377.6L243.7 374.9L241.7 372.6ZM252.5 374.6L253.8 379.0L254.3 383.5L246.4 383.5L246.1 380.5L245.2 377.6Z"/>
<path fill="#faa260" d="M347.3 449.0L341.0 458.7L334.5 454.3L340.4 445.2ZM107.9 351.6L111.2 341.3L118.7 343.9L115.6 353.6ZM240.6 283.7L250.6 285.2L249.1 292.7L239.8 291.4ZM173.2 300.1L181.9 295.1L185.6 301.9L177.6 306.6ZM325.7 383.5L325.2 393.2L317.3 392.4L317.8 383.5ZM174.5 458.4L166.8 452.3L172.1 446.5L179.2 452.1ZM143.5 345.9L148.1 337.2L154.9 341.1L150.8 349.0ZM191.8 299.0L201.1 295.5L203.5 302.8L195.0 306.0ZM276.9 311.7L284.9 317.2L280.0 323.2L272.7 318.2ZM317.8 383.5L317.2 393.0L309.3 392.1L309.8 383.5ZM220.7 467.8L211.1 466.2L212.8 458.7L221.6 460.1ZM201.7 463.6L192.6 459.9L196.1 453.0L204.3 456.3ZM168.8 443.5L162.3 436.4L168.5 431.6L174.4 438.0ZM258.6 311.4L267.4 315.2L263.7 322.0L255.8 318.6ZM309.3 374.2L309.8 383.5L301.9 383.5L301.4 375.1ZM309.8 383.5L309.3 392.8L301.4 391.9L301.9 383.5ZM249.5 458.4L240.1 460.0L239.1 452.4L247.6 450.9ZM160.3 419.3L156.3 410.8L163.7 408.1L167.3 415.8ZM153.5 365.0L156.3 356.2L163.7 358.9L161.2 366.9ZM274.0 328.4L281.0 334.4L275.4 339.9L269.1 334.6ZM212.0 450.5L203.2 447.6L206.2 440.5L214.1 443.1ZM203.2 447.6L194.8 443.6L198.8 436.9L206.2 440.5ZM293.3 392.3L291.4 400.9L283.8 398.7L285.5 391.2ZM239.5 444.6L230.5 445.2L230.5 437.5L238.4 436.9ZM221.5 322.4L230.5 321.8L230.5 329.5L222.6 330.1ZM239.2 330.2L247.7 332.2L245.2 339.5L237.9 337.8ZM286.0 383.5L285.3 391.9L277.5 390.7L278.1 383.5ZM285.3 391.9L283.3 400.2L275.8 397.8L277.5 390.7ZM283.3 400.2L280.0 408.0L272.9 404.5L275.8 397.8ZM240.3 412.8L235.5 414.0L230.5 414.3L230.5 406.6L234.2 406.3L237.9 405.5ZM200.3 374.0L202.2 369.5L204.8 365.4L211.2 369.9L209.3 373.0L207.9 376.4ZM246.4 383.5L246.1 386.5L245.2 389.4L243.7 392.1L241.7 394.4L236.1 389.0L237.1 387.8L237.8 386.5L238.3 385.0L238.4 383.5ZM230.5 398.9L227.4 398.6L224.4 397.7L221.7 396.3L219.3 394.4L224.9 389.0L226.1 389.9L227.5 390.6L229.0 391.1L230.5 391.2ZM230.5 375.8L233.5 376.4L236.1 378.0L237.8 380.5L238.4 383.5L230.5 383.5L230.5 383.5L230.5 383.5L230.5 383.5L230.5 383.5ZM222.6 383.5L223.2 380.5L224.9 378.0L227.5 376.4L230.5 375.8L230.5 383.5L230.5 383.5L230.5 383.5L230.5 383.5L230.5 383.5Z"/>
<path fill="#ef6d42" d="M97.7 406.3L96.1 394.9L104.0 394.3L105.5 404.9ZM345.5 331.4L349.8 341.3L342.3 343.9L338.4 334.6ZM105.5 404.9L104.0 394.3L112.0 393.6L113.3 403.6ZM113.5 404.8L112.0 394.2L119.9 393.5L121.3 403.3ZM165.1 461.0L157.6 454.4L163.2 448.9L170.1 455.0Z"/>
<path fill="#fcc780" d="M263.4 264.3L273.9 267.6L271.2 274.8L261.3 271.8ZM241.5 498.7L230.5 499.2L230.5 491.5L240.7 491.0Z"/>
<path fill="#f89154" d="M252.5 505.0L241.6 506.4L240.9 498.7L251.2 497.4ZM197.6 502.7L187.1 499.4L189.8 492.2L199.7 495.2ZM230.5 267.8L241.5 268.3L240.7 276.0L230.5 275.5ZM113.5 362.2L116.0 351.8L123.7 354.0L121.3 363.7ZM230.5 275.5L240.7 276.0L240.0 283.7L230.5 283.3ZM270.6 484.2L260.9 487.3L258.7 479.9L267.8 477.0ZM250.9 489.6L240.7 491.0L240.0 483.3L249.5 482.0ZM230.5 283.3L240.6 283.7L239.8 291.4L230.5 291.0ZM321.5 336.2L325.8 345.1L318.5 348.1L314.5 339.9ZM135.2 345.1L139.5 336.2L146.5 339.9L142.5 348.1ZM269.2 299.0L278.1 303.4L274.1 310.0L266.0 306.0ZM312.9 429.8L307.5 437.9L301.1 433.4L306.1 425.9ZM286.5 458.4L278.1 463.6L274.1 457.0L281.8 452.1ZM269.2 468.0L259.9 471.5L257.5 464.2L266.0 461.0ZM230.5 476.0L220.5 475.5L221.4 467.9L230.5 468.3ZM148.1 429.8L143.5 421.1L150.8 418.0L154.9 425.9ZM182.9 303.4L191.8 299.0L195.0 306.0L186.9 310.0ZM201.1 295.5L210.7 293.0L212.4 300.5L203.5 302.8ZM230.5 298.7L240.3 299.2L239.4 306.9L230.5 306.4ZM284.9 449.8L276.9 455.3L272.7 448.8L280.0 443.8ZM156.6 338.4L162.3 330.6L168.5 335.4L163.3 342.5ZM201.7 303.4L211.1 300.8L212.8 308.3L204.3 310.7ZM240.1 307.0L249.5 308.6L247.6 316.1L239.1 314.6ZM289.9 434.6L283.1 441.2L277.8 435.4L283.9 429.5ZM193.6 315.2L202.4 311.4L205.2 318.6L197.3 322.0ZM239.8 314.7L249.0 316.5L246.9 323.9L238.8 322.3ZM249.0 316.5L257.8 319.4L254.8 326.5L246.9 323.9ZM301.3 374.4L301.9 383.5L294.0 383.5L293.4 375.4ZM281.0 432.6L274.0 438.6L269.1 432.4L275.4 427.1ZM230.5 452.9L221.2 452.3L222.2 444.7L230.5 445.2ZM164.5 356.9L168.7 348.8L175.5 352.7L171.9 359.9ZM256.9 327.4L264.8 331.6L260.5 338.1L253.6 334.4ZM264.8 331.6L272.1 336.9L266.9 342.7L260.5 338.1ZM278.5 343.1L283.9 350.1L277.2 354.3L272.5 348.2ZM293.3 374.7L294.0 383.5L286.0 383.5L285.5 375.8ZM294.0 383.5L293.3 392.3L285.5 391.2L286.0 383.5ZM288.2 409.1L283.9 416.9L277.2 412.7L281.0 405.9ZM248.4 442.7L239.5 444.6L238.4 436.9L246.1 435.3ZM169.6 366.1L172.8 357.9L180.0 361.1L177.2 368.3ZM263.1 427.2L255.7 431.6L252.1 424.7L258.5 420.9ZM255.7 431.6L247.7 434.8L245.2 427.5L252.1 424.7ZM247.7 434.8L239.2 436.8L237.9 429.2L245.2 427.5ZM239.2 436.8L230.5 437.5L230.5 429.8L237.9 429.2ZM177.7 366.8L181.0 359.0L188.1 362.5L185.2 369.2ZM274.5 401.2L272.5 405.3L270.1 409.2L263.5 404.9L265.5 401.7L267.1 398.3ZM186.5 401.2L184.9 396.9L183.8 392.5L191.6 391.0L192.5 394.7L193.9 398.3ZM239.3 421.1L234.9 421.8L230.5 422.1L230.5 414.3L234.1 414.2L237.6 413.6ZM230.5 406.6L225.9 406.2L221.4 404.9L224.4 397.7L227.4 398.6L230.5 398.9Z"/>
<path fill="#fbb56f" d="M263.1 272.2L273.5 275.6L270.6 282.8L260.9 279.7ZM250.9 277.4L260.9 279.7L258.7 287.1L249.5 285.0ZM316.3 327.8L321.5 336.2L314.5 339.9L309.7 332.1ZM221.2 314.7L230.5 314.1L230.5 321.8L222.2 322.3ZM230.5 321.8L239.5 322.4L238.4 330.1L230.5 329.5ZM230.5 329.5L239.2 330.2L237.9 337.8L230.5 337.2ZM239.6 404.9L235.1 406.2L230.5 406.6L230.5 398.9L233.6 398.6L236.6 397.7ZM230.5 391.2L227.5 390.6L224.9 389.0L223.2 386.5L222.6 383.5L230.5 383.5L230.5 383.5L230.5 383.5L230.5 383.5L230.5 383.5Z"/>
<path fill="#faac68" d="M318.4 305.6L325.5 313.8L319.1 318.4L312.6 310.8ZM148.1 337.2L153.5 329.1L159.9 333.6L154.9 341.1ZM317.2 374.0L317.8 383.5L309.8 383.5L309.3 374.9ZM162.3 436.4L156.6 428.6L163.3 424.5L168.5 431.6ZM202.4 455.6L193.6 451.8L197.3 445.0L205.2 448.4ZM266.2 323.4L274.0 328.4L269.1 334.6L262.2 330.1ZM161.5 365.5L164.5 356.9L171.9 359.9L169.2 367.5ZM183.8 392.5L183.1 388.0L182.9 383.5L190.8 383.5L191.0 387.3L191.6 391.0ZM249.2 408.5L244.9 411.0L240.3 412.8L237.9 405.5L241.3 404.1L244.5 402.2ZM247.3 399.9L243.7 402.7L239.6 404.9L236.6 397.7L239.3 396.3L241.7 394.4ZM238.4 383.5L237.8 386.5L236.1 389.0L233.5 390.6L230.5 391.2L230.5 383.5L230.5 383.5L230.5 383.5L230.5 383.5L230.5 383.5Z"/>
<path fill="#3e62b3" d="M341.1 393.5L339.7 403.3L331.9 401.9L333.2 392.7ZM321.5 430.8L316.3 439.2L309.7 434.9L314.5 427.1ZM211.1 466.2L201.7 463.6L204.3 456.3L212.8 458.7ZM151.2 383.5L151.7 374.2L159.6 375.1L159.1 383.5ZM187.0 328.4L194.8 323.4L198.8 330.1L191.9 334.6ZM256.9 439.6L248.4 442.7L246.1 435.3L253.6 432.6ZM256.9 422.0L252.9 424.3L248.7 426.2L245.7 419.1L249.2 417.5L252.5 415.6ZM199.5 407.5L196.9 404.0L194.8 400.2L201.9 396.9L203.6 399.9L205.7 402.7ZM194.8 366.8L196.9 363.0L199.5 359.5L205.7 364.3L203.6 367.1L201.9 370.1Z"/>
<path fill="#fcd089" d="M319.1 448.6L312.6 456.2L306.7 451.0L312.8 443.9Z"/>
<path fill="#2b3a9a" d="M321.0 412.1L317.5 421.1L310.2 418.0L313.5 409.7ZM165.2 339.7L171.1 332.4L177.1 337.5L171.7 344.1Z"/>
</g>
<g fill="none" stroke="#fff2a8" stroke-width="1">
<ellipse cx="230.5" cy="383.5" rx="47.6" ry="46.3"/>
<ellipse cx="230.5" cy="383.5" rx="95.2" ry="92.5"/>
<ellipse cx="230.5" cy="383.5" rx="142.8" ry="138.8"/>
<line x1="230.5" y1="383.5" x2="230.5" y2="244.7"/>
<line x1="230.5" y1="383.5" x2="331.5" y2="285.4"/>
<line x1="230.5" y1="383.5" x2="373.3" y2="383.5"/>
<line x1="230.5" y1="383.5" x2="331.5" y2="481.6"/>
<line x1="230.5" y1="383.5" x2="230.5" y2="522.3"/>
<line x1="230.5" y1="383.5" x2="129.5" y2="481.6"/>
<line x1="230.5" y1="383.5" x2="87.7" y2="383.5"/>
<line x1="230.5" y1="383.5" x2="129.5" y2="285.4"/>
</g>
<polygon fill="#ffa200" points="177.4,360.5 177.2,362.0 176.9,363.5 177.1,365.0 177.1,366.5 177.2,368.0 178.3,369.5 178.7,371.0 178.2,372.5 178.3,374.0 179.0,375.5 179.3,377.0 180.7,378.5 180.4,380.0 181.1,381.5 181.9,383.0 182.6,384.5 182.6,386.0 182.7,387.5 183.5,389.0 183.0,390.5 182.9,392.0 183.6,393.5 182.8,395.0 183.4,396.5 183.8,398.0 184.3,399.5 183.5,401.0 184.7,402.5 184.2,404.0 184.8,405.5 185.4,407.0 185.8,408.5 186.9,410.0 186.6,411.5 186.8,413.0 188.3,414.5 188.3,416.0 188.5,417.5 188.4,419.0 189.9,420.5 190.7,422.0 191.7,423.5 196.1,423.5 196.8,422.0 196.3,420.5 196.6,419.0 196.2,417.5 195.3,416.0 194.3,414.5 194.8,413.0 194.0,411.5 193.1,410.0 193.1,408.5 192.2,407.0 192.3,405.5 192.8,404.0 191.5,402.5 192.1,401.0 191.0,399.5 191.1,398.0 191.3,396.5 191.5,395.0 190.1,393.5 191.0,392.0 190.4,390.5 189.4,389.0 189.9,387.5 189.4,386.0 188.8,384.5 188.6,383.0 188.2,381.5 188.4,380.0 187.4,378.5 187.7,377.0 187.0,375.5 186.5,374.0 185.8,372.5 185.0,371.0 185.2,369.5 184.8,368.0 184.6,366.5 184.3,365.0 184.2,363.5 183.5,362.0 182.7,360.5"/>
<circle cx="178.8" cy="355.2" r="2.9" fill="#ffa200"/>
<line x1="188" y1="392.6" x2="230.5" y2="383.5" stroke="#ffa200" stroke-width="1"/>
<defs><linearGradient id="wg0" x1="0" y1="0" x2="0" y2="1"><stop offset="0.000" stop-color="#a5cfe8"/><stop offset="0.069" stop-color="#8fbfe0"/><stop offset="0.171" stop-color="#75a9d4"/><stop offset="0.343" stop-color="#5f93c6"/><stop offset="1.000" stop-color="#5688bf"/></linearGradient><linearGradient id="wg1" x1="0" y1="0" x2="0" y2="1"><stop offset="0.000" stop-color="#e6f3f8"/><stop offset="0.031" stop-color="#dff0f7"/><stop offset="0.057" stop-color="#c6e2f0"/><stop offset="0.126" stop-color="#a9d2e9"/><stop offset="0.217" stop-color="#8abcde"/><stop offset="0.320" stop-color="#70a4d1"/><stop offset="0.434" stop-color="#5d90c5"/><stop offset="1.000" stop-color="#5486be"/></linearGradient><linearGradient id="wg2" x1="0" y1="0" x2="0" y2="1"><stop offset="0.000" stop-color="#e6f3f8"/><stop offset="0.063" stop-color="#dff0f7"/><stop offset="0.114" stop-color="#c6e2f0"/><stop offset="0.183" stop-color="#a9d2e9"/><stop offset="0.274" stop-color="#8abcde"/><stop offset="0.377" stop-color="#70a4d1"/><stop offset="0.491" stop-color="#5d90c5"/><stop offset="1.000" stop-color="#5486be"/></linearGradient><linearGradient id="wg3" x1="0" y1="0" x2="0" y2="1"><stop offset="0.000" stop-color="#e6f3f8"/><stop offset="0.094" stop-color="#dff0f7"/><stop offset="0.171" stop-color="#c6e2f0"/><stop offset="0.240" stop-color="#a9d2e9"/><stop offset="0.331" stop-color="#8abcde"/><stop offset="0.434" stop-color="#70a4d1"/><stop offset="0.549" stop-color="#5d90c5"/><stop offset="1.000" stop-color="#5486be"/></linearGradient><linearGradient id="wg4" x1="0" y1="0" x2="0" y2="1"><stop offset="0.000" stop-color="#e6f3f8"/><stop offset="0.126" stop-color="#dff0f7"/><stop offset="0.229" stop-color="#c6e2f0"/><stop offset="0.297" stop-color="#a9d2e9"/><stop offset="0.389" stop-color="#8abcde"/><stop offset="0.491" stop-color="#70a4d1"/><stop offset="0.606" stop-color="#5d90c5"/><stop offset="1.000" stop-color="#5486be"/></linearGradient><linearGradient id="wg5" x1="0" y1="0" x2="0" y2="1"><stop offset="0.000" stop-color="#e6f3f8"/><stop offset="0.157" stop-color="#dff0f7"/><stop offset="0.286" stop-color="#c6e2f0"/><stop offset="0.354" stop-color="#a9d2e9"/><stop offset="0.446" stop-color="#8abcde"/><stop offset="0.549" stop-color="#70a4d1"/><stop offset="0.663" stop-color="#5d90c5"/><stop offset="1.000" stop-color="#5486be"/></linearGradient><linearGradient id="wg6" x1="0" y1="0" x2="0" y2="1"><stop offset="0.000" stop-color="#e6f3f8"/><stop offset="0.189" stop-color="#dff0f7"/><stop offset="0.343" stop-color="#c6e2f0"/><stop offset="0.411" stop-color="#a9d2e9"/><stop offset="0.503" stop-color="#8abcde"/><stop offset="0.606" stop-color="#70a4d1"/><stop offset="0.720" stop-color="#5d90c5"/><stop offset="1.000" stop-color="#5486be"/></linearGradient><linearGradient id="wg7" x1="0" y1="0" x2="0" y2="1"><stop offset="0.000" stop-color="#e6f3f8"/><stop offset="0.220" stop-color="#dff0f7"/><stop offset="0.400" stop-color="#c6e2f0"/><stop offset="0.469" stop-color="#a9d2e9"/><stop offset="0.560" stop-color="#8abcde"/><stop offset="0.663" stop-color="#70a4d1"/><stop offset="0.777" stop-color="#5d90c5"/><stop offset="1.000" stop-color="#5486be"/></linearGradient><linearGradient id="wg8" x1="0" y1="0" x2="0" y2="1"><stop offset="0.000" stop-color="#e6f3f8"/><stop offset="0.251" stop-color="#dff0f7"/><stop offset="0.457" stop-color="#c6e2f0"/><stop offset="0.526" stop-color="#a9d2e9"/><stop offset="0.617" stop-color="#8abcde"/><stop offset="0.720" stop-color="#70a4d1"/><stop offset="0.834" stop-color="#5d90c5"/><stop offset="1.000" stop-color="#5486be"/></linearGradient><linearGradient id="wg9" x1="0" y1="0" x2="0" y2="1"><stop offset="0.000" stop-color="#e6f3f8"/><stop offset="0.283" stop-color="#dff0f7"/><stop offset="0.514" stop-color="#c6e2f0"/><stop offset="0.583" stop-color="#a9d2e9"/><stop offset="0.674" stop-color="#8abcde"/><stop offset="0.777" stop-color="#70a4d1"/><stop offset="0.891" stop-color="#5d90c5"/><stop offset="1.000" stop-color="#5486be"/></linearGradient><clipPath id="wfclip"><polygon points="537,403.7 538,403.7 538,401.5 539,401.5 539,401.6 540,401.6 540,398.0 541,398.0 541,399.4 542,399.4 542,398.5 543,398.5 543,397.2 544,397.2 544,398.5 545,398.5 545,396.7 546,396.7 546,397.8 547,397.8 547,395.4 548,395.4 548,394.3 549,394.3 549,394.3 550,394.3 550,394.5 551,394.5 551,391.0 552,391.0 552,390.1 553,390.1 553,390.4 554,390.4 554,389.9 555,389.9 555,383.3 556,383.3 556,377.3 557,377.3 557,373.9 558,373.9 558,365.4 559,365.4 559,362.6 560,362.6 560,355.2 561,355.2 561,351.9 562,351.9 562,350.8 563,350.8 563,350.4 564,350.4 564,351.2 565,351.2 565,348.0 566,348.0 566,348.4 567,348.4 567,347.6 568,347.6 568,345.7 569,345.7 569,345.5 570,345.5 570,343.2 571,343.2 571,342.5 572,342.5 572,342.4 573,342.4 573,343.3 574,343.3 574,341.8 575,341.8 575,340.7 576,340.7 576,341.0 577,341.0 577,339.7 578,339.7 578,338.4 579,338.4 579,339.2 580,339.2 580,338.0 581,338.0 581,335.7 582,335.7 582,336.0 583,336.0 583,335.0 584,335.0 584,335.4 585,335.4 585,334.3 586,334.3 586,332.3 587,332.3 587,334.1 588,334.1 588,330.6 589,330.6 589,331.0 590,331.0 590,331.6 591,331.6 591,329.0 592,329.0 592,329.6 593,329.6 593,327.5 594,327.5 594,329.1 595,329.1 595,328.9 596,328.9 596,327.7 597,327.7 597,328.2 598,328.2 598,325.8 599,325.8 599,326.6 600,326.6 600,325.8 601,325.8 601,325.2 602,325.2 602,324.3 603,324.3 603,325.1 604,325.1 604,325.0 605,325.0 605,322.9 606,322.9 606,323.0 607,323.0 607,320.5 608,320.5 608,322.1 609,322.1 609,321.5 610,321.5 610,322.1 611,322.1 611,321.0 612,321.0 612,318.6 613,318.6 613,318.2 614,318.2 614,318.5 615,318.5 615,315.7 616,315.7 616,316.5 617,316.5 617,314.8 618,314.8 618,314.0 619,314.0 619,313.1 620,313.1 620,314.9 621,314.9 621,312.0 622,312.0 622,311.7 623,311.7 623,311.6 624,311.6 624,313.0 625,313.0 625,310.1 626,310.1 626,311.2 627,311.2 627,311.3 628,311.3 628,312.2 629,312.2 629,311.8 630,311.8 630,311.7 631,311.7 631,309.5 632,309.5 632,309.8 633,309.8 633,309.4 634,309.4 634,310.9 635,310.9 635,311.0 636,311.0 636,308.1 637,308.1 637,308.1 638,308.1 638,308.2 639,308.2 639,308.1 640,308.1 640,308.8 641,308.8 641,309.0 642,309.0 642,307.8 643,307.8 643,306.8 644,306.8 644,308.1 645,308.1 645,307.8 646,307.8 646,308.3 647,308.3 647,309.5 648,309.5 648,308.5 649,308.5 649,307.8 650,307.8 650,308.0 651,308.0 651,308.1 652,308.1 652,306.0 653,306.0 653,308.8 654,308.8 654,308.3 655,308.3 655,308.6 656,308.6 656,308.3 657,308.3 657,306.8 658,306.8 658,306.8 659,306.8 659,305.7 660,305.7 660,307.5 661,307.5 661,305.4 662,305.4 662,305.4 663,305.4 663,305.8 664,305.8 664,306.0 665,306.0 665,307.0 666,307.0 666,306.4 667,306.4 667,306.6 668,306.6 668,307.5 669,307.5 669,307.7 670,307.7 670,309.0 671,309.0 671,308.3 672,308.3 672,311.6 673,311.6 673,311.1 674,311.1 674,309.9 675,309.9 675,310.6 676,310.6 676,311.4 677,311.4 677,311.2 678,311.2 678,309.9 679,309.9 679,311.8 680,311.8 680,311.8 681,311.8 681,309.5 682,309.5 682,309.1 683,309.1 683,307.2 684,307.2 684,306.8 685,306.8 685,307.1 686,307.1 686,306.4 687,306.4 687,307.8 688,307.8 688,305.0 689,305.0 689,304.0 690,304.0 690,306.7 691,306.7 691,304.7 692,304.7 692,303.0 693,303.0 693,304.1 694,304.1 694,302.1 695,302.1 695,303.6 696,303.6 696,304.9 697,304.9 697,304.3 698,304.3 698,303.5 699,303.5 699,301.7 700,301.7 700,302.0 701,302.0 701,301.7 702,301.7 702,304.1 703,304.1 703,303.6 704,303.6 704,304.7 705,304.7 705,303.5 706,303.5 706,303.5 707,303.5 707,307.0 708,307.0 708,309.4 709,309.4 709,310.8 710,310.8 710,312.5 711,312.5 711,314.4 712,314.4 712,315.9 713,315.9 713,315.2 714,315.2 714,316.9 715,316.9 715,317.1 716,317.1 716,316.7 717,316.7 717,317.4 718,317.4 718,319.0 719,319.0 719,319.3 720,319.3 720,321.0 721,321.0 721,322.2 722,322.2 722,320.7 723,320.7 723,322.6 724,322.6 724,323.0 725,323.0 725,323.1 726,323.1 726,321.4 727,321.4 727,321.1 728,321.1 728,321.4 729,321.4 729,321.4 730,321.4 730,321.1 731,321.1 731,322.3 732,322.3 732,323.0 733,323.0 733,322.6 734,322.6 734,321.1 735,321.1 735,321.4 736,321.4 736,321.7 737,321.7 737,319.0 738,319.0 738,320.7 739,320.7 739,321.3 740,321.3 740,320.7 741,320.7 741,320.4 742,320.4 742,319.4 743,319.4 743,318.2 744,318.2 744,320.1 745,320.1 745,318.4 746,318.4 746,319.9 747,319.9 747,320.3 748,320.3 748,318.2 749,318.2 749,318.5 750,318.5 750,320.7 751,320.7 751,320.3 752,320.3 752,318.8 753,318.8 753,319.1 754,319.1 754,319.5 755,319.5 755,322.5 756,322.5 756,322.5 757,322.5 757,320.7 758,320.7 758,323.4 759,323.4 759,324.3 760,324.3 760,323.7 761,323.7 761,323.2 762,323.2 762,324.4 763,324.4 763,323.4 764,323.4 764,323.5 765,323.5 765,327.3 766,327.3 766,326.7 767,326.7 767,326.3 768,326.3 768,327.2 769,327.2 769,325.1 770,325.1 770,326.2 771,326.2 771,325.7 772,325.7 772,323.2 773,323.2 773,322.9 774,322.9 774,322.7 775,322.7 775,322.5 776,322.5 776,323.8 777,323.8 777,322.8 778,322.8 778,323.4 779,323.4 779,322.5 780,322.5 780,325.3 781,325.3 781,323.5 782,323.5 782,323.9 783,323.9 783,324.4 784,324.4 784,325.6 785,325.6 785,324.3 786,324.3 786,326.6 787,326.6 787,325.8 788,325.8 788,326.5 789,326.5 789,327.0 790,327.0 790,325.9 791,325.9 791,328.0 792,328.0 792,327.7 793,327.7 793,327.2 794,327.2 794,329.7 795,329.7 795,327.3 796,327.3 796,328.1 797,328.1 797,328.8 798,328.8 798,328.0 799,328.0 799,327.0 800,327.0 800,327.4 801,327.4 801,327.3 802,327.3 802,327.9 803,327.9 803,325.3 804,325.3 804,326.6 805,326.6 805,325.5 806,325.5 806,325.6 807,325.6 807,327.3 808,327.3 808,326.4 809,326.4 809,326.6 810,326.6 810,327.3 811,327.3 811,327.8 812,327.8 812,326.2 813,326.2 813,326.8 814,326.8 814,328.1 815,328.1 815,330.4 816,330.4 816,333.4 817,333.4 817,334.9 818,334.9 818,336.6 819,336.6 819,337.7 820,337.7 820,340.6 821,340.6 821,341.1 822,341.1 822,343.0 823,343.0 823,344.5 824,344.5 824,343.4 825,343.4 825,345.7 826,345.7 826,348.3 827,348.3 827,348.1 828,348.1 828,345.2 829,345.2 829,344.8 830,344.8 830,345.4 831,345.4 831,343.7 832,343.7 832,343.9 833,343.9 833,342.9 834,342.9 834,344.5 835,344.5 835,344.4 836,344.4 836,344.5 837,344.5 837,341.8 838,341.8 838,343.6 839,343.6 839,343.2 840,343.2 840,341.3 841,341.3 841,343.6 842,343.6 842,343.7 843,343.7 843,341.0 844,341.0 844,343.4 845,343.4 845,341.3 846,341.3 846,341.5 847,341.5 847,343.6 848,343.6 848,343.4 849,343.4 849,341.4 850,341.4 850,342.7 851,342.7 851,343.3 852,343.3 852,343.0 853,343.0 853,342.9 854,342.9 854,343.6 855,343.6 855,345.4 856,345.4 856,346.3 857,346.3 857,351.5 858,351.5 858,354.4 859,354.4 859,356.4 860,356.4 860,361.8 861,361.8 861,367.1 862,367.1 862,371.1 863,371.1 863,372.9 864,372.9 864,375.7 865,375.7 865,374.6 866,374.6 866,374.8 867,374.8 867,371.5 868,371.5 868,371.6 869,371.6 869,370.5 870,370.5 870,372.4 871,372.4 871,370.1 872,370.1 872,369.1 873,369.1 873,369.5 874,369.5 874,370.6 875,370.6 875,369.7 876,369.7 876,367.3 877,367.3 877,366.3 878,366.3 878,368.4 879,368.4 879,372.2 878,372.2 878,375.4 877,375.4 877,374.5 876,374.5 876,375.3 875,375.3 875,375.5 874,375.5 874,380.0 873,380.0 873,379.8 872,379.8 872,383.0 871,383.0 871,386.5 870,386.5 870,388.7 869,388.7 869,388.9 868,388.9 868,391.6 867,391.6 867,395.4 866,395.4 866,395.3 865,395.3 865,393.5 864,393.5 864,393.1 863,393.1 863,394.1 862,394.1 862,396.0 861,396.0 861,397.5 860,397.5 860,394.2 859,394.2 859,397.5 858,397.5 858,394.4 857,394.4 857,397.5 856,397.5 856,397.6 855,397.6 855,399.7 854,399.7 854,399.7 853,399.7 853,400.6 852,400.6 852,402.3 851,402.3 851,401.5 850,401.5 850,401.3 849,401.3 849,400.1 848,400.1 848,400.5 847,400.5 847,401.8 846,401.8 846,406.0 845,406.0 845,406.0 844,406.0 844,405.7 843,405.7 843,403.2 842,403.2 842,397.6 841,397.6 841,392.6 840,392.6 840,393.4 839,393.4 839,392.9 838,392.9 838,395.0 837,395.0 837,394.0 836,394.0 836,390.7 835,390.7 835,390.6 834,390.6 834,394.9 833,394.9 833,393.1 832,393.1 832,391.7 831,391.7 831,387.1 830,387.1 830,384.9 829,384.9 829,383.6 828,383.6 828,383.2 827,383.2 827,382.5 826,382.5 826,385.3 825,385.3 825,383.7 824,383.7 824,382.7 823,382.7 823,380.4 822,380.4 822,384.2 821,384.2 821,380.3 820,380.3 820,379.1 819,379.1 819,380.5 818,380.5 818,380.7 817,380.7 817,381.4 816,381.4 816,380.9 815,380.9 815,380.9 814,380.9 814,382.5 813,382.5 813,383.2 812,383.2 812,381.6 811,381.6 811,380.1 810,380.1 810,380.1 809,380.1 809,379.8 808,379.8 808,381.4 807,381.4 807,380.5 806,380.5 806,381.4 805,381.4 805,381.5 804,381.5 804,383.4 803,383.4 803,386.6 802,386.6 802,386.5 801,386.5 801,383.4 800,383.4 800,385.2 799,385.2 799,387.5 798,387.5 798,384.2 797,384.2 797,384.3 796,384.3 796,384.5 795,384.5 795,385.9 794,385.9 794,387.0 793,387.0 793,385.9 792,385.9 792,388.0 791,388.0 791,386.2 790,386.2 790,390.1 789,390.1 789,389.4 788,389.4 788,388.0 787,388.0 787,389.1 786,389.1 786,390.6 785,390.6 785,389.7 784,389.7 784,394.5 783,394.5 783,391.0 782,391.0 782,393.0 781,393.0 781,395.6 780,395.6 780,396.9 779,396.9 779,396.2 778,396.2 778,398.4 777,398.4 777,395.8 776,395.8 776,400.0 775,400.0 775,399.9 774,399.9 774,402.5 773,402.5 773,403.0 772,403.0 772,402.2 771,402.2 771,403.8 770,403.8 770,404.8 769,404.8 769,406.0 768,406.0 768,404.9 767,404.9 767,405.7 766,405.7 766,409.1 765,409.1 765,409.7 764,409.7 764,414.7 763,414.7 763,424.2 762,424.2 762,426.1 761,426.1 761,430.9 760,430.9 760,429.2 759,429.2 759,431.0 758,431.0 758,434.1 757,434.1 757,436.9 756,436.9 756,438.6 755,438.6 755,441.2 754,441.2 754,444.4 753,444.4 753,442.6 752,442.6 752,443.7 751,443.7 751,444.5 750,444.5 750,448.7 749,448.7 749,448.9 748,448.9 748,450.7 747,450.7 747,447.4 746,447.4 746,451.7 745,451.7 745,451.9 744,451.9 744,448.9 743,448.9 743,453.8 742,453.8 742,451.9 741,451.9 741,452.7 740,452.7 740,452.4 739,452.4 739,454.4 738,454.4 738,456.3 737,456.3 737,457.7 736,457.7 736,456.4 735,456.4 735,457.7 734,457.7 734,461.2 733,461.2 733,464.5 732,464.5 732,461.9 731,461.9 731,464.1 730,464.1 730,464.8 729,464.8 729,462.7 728,462.7 728,464.1 727,464.1 727,460.4 726,460.4 726,464.3 725,464.3 725,461.1 724,461.1 724,457.8 723,457.8 723,458.6 722,458.6 722,455.4 721,455.4 721,457.6 720,457.6 720,452.6 719,452.6 719,451.8 718,451.8 718,453.0 717,453.0 717,456.0 716,456.0 716,455.6 715,455.6 715,454.1 714,454.1 714,452.2 713,452.2 713,457.1 712,457.1 712,457.7 711,457.7 711,453.0 710,453.0 710,454.0 709,454.0 709,447.6 708,447.6 708,446.8 707,446.8 707,444.3 706,444.3 706,442.6 705,442.6 705,441.5 704,441.5 704,443.4 703,443.4 703,443.5 702,443.5 702,443.4 701,443.4 701,441.3 700,441.3 700,440.7 699,440.7 699,440.9 698,440.9 698,444.2 697,444.2 697,443.4 696,443.4 696,446.1 695,446.1 695,444.1 694,444.1 694,444.1 693,444.1 693,444.2 692,444.2 692,447.6 691,447.6 691,447.9 690,447.9 690,448.6 689,448.6 689,446.7 688,446.7 688,444.2 687,444.2 687,442.3 686,442.3 686,441.3 685,441.3 685,442.3 684,442.3 684,440.4 683,440.4 683,437.0 682,437.0 682,439.0 681,439.0 681,436.0 680,436.0 680,434.3 679,434.3 679,434.5 678,434.5 678,436.3 677,436.3 677,432.7 676,432.7 676,436.4 675,436.4 675,436.6 674,436.6 674,437.3 673,437.3 673,439.3 672,439.3 672,440.3 671,440.3 671,437.2 670,437.2 670,439.6 669,439.6 669,440.2 668,440.2 668,439.5 667,439.5 667,439.1 666,439.1 666,438.4 665,438.4 665,439.4 664,439.4 664,435.4 663,435.4 663,436.3 662,436.3 662,435.2 661,435.2 661,434.7 660,434.7 660,435.8 659,435.8 659,438.1 658,438.1 658,438.1 657,438.1 657,439.2 656,439.2 656,437.4 655,437.4 655,437.7 654,437.7 654,436.8 653,436.8 653,436.1 652,436.1 652,433.6 651,433.6 651,432.8 650,432.8 650,430.1 649,430.1 649,432.6 648,432.6 648,432.5 647,432.5 647,433.0 646,433.0 646,435.3 645,435.3 645,436.0 644,436.0 644,433.1 643,433.1 643,437.1 642,437.1 642,438.5 641,438.5 641,436.6 640,436.6 640,441.8 639,441.8 639,439.3 638,439.3 638,440.2 637,440.2 637,443.3 636,443.3 636,443.1 635,443.1 635,443.4 634,443.4 634,444.5 633,444.5 633,443.9 632,443.9 632,446.5 631,446.5 631,447.0 630,447.0 630,449.6 629,449.6 629,450.4 628,450.4 628,452.8 627,452.8 627,453.4 626,453.4 626,449.9 625,449.9 625,448.8 624,448.8 624,449.3 623,449.3 623,453.5 622,453.5 622,450.1 621,450.1 621,447.3 620,447.3 620,442.8 619,442.8 619,438.0 618,438.0 618,434.8 617,434.8 617,436.6 616,436.6 616,436.3 615,436.3 615,439.6 614,439.6 614,436.0 613,436.0 613,437.5 612,437.5 612,439.5 611,439.5 611,437.3 610,437.3 610,431.8 609,431.8 609,430.6 608,430.6 608,427.1 607,427.1 607,426.6 606,426.6 606,424.9 605,424.9 605,423.8 604,423.8 604,423.2 603,423.2 603,424.3 602,424.3 602,424.4 601,424.4 601,423.4 600,423.4 600,418.8 599,418.8 599,418.3 598,418.3 598,417.9 597,417.9 597,420.6 596,420.6 596,417.7 595,417.7 595,418.4 594,418.4 594,418.5 593,418.5 593,420.4 592,420.4 592,421.2 591,421.2 591,422.8 590,422.8 590,423.6 589,423.6 589,424.7 588,424.7 588,422.7 587,422.7 587,426.3 586,426.3 586,425.3 585,425.3 585,424.9 584,424.9 584,424.7 583,424.7 583,427.4 582,427.4 582,426.2 581,426.2 581,426.4 580,426.4 580,428.8 579,428.8 579,425.8 578,425.8 578,430.4 577,430.4 577,428.6 576,428.6 576,427.7 575,427.7 575,430.0 574,430.0 574,431.4 573,431.4 573,428.3 572,428.3 572,430.5 571,430.5 571,430.3 570,430.3 570,433.0 569,433.0 569,433.2 568,433.2 568,435.8 567,435.8 567,435.8 566,435.8 566,439.2 565,439.2 565,436.7 564,436.7 564,433.8 563,433.8 563,430.3 562,430.3 562,426.6 561,426.6 561,424.2 560,424.2 560,420.9 559,420.9 559,422.2 558,422.2 558,424.3 557,424.3 557,422.9 556,422.9 556,424.2 555,424.2 555,428.2 554,428.2 554,426.9 553,426.9 553,426.5 552,426.5 552,427.7 551,427.7 551,430.3 550,430.3 550,427.0 549,427.0 549,429.7 548,429.7 548,423.3 547,423.3 547,424.4 546,424.4 546,422.6 545,422.6 545,423.1 544,423.1 544,417.8 543,417.8 543,418.5 542,418.5 542,418.8 541,418.8 541,414.7 540,414.7 540,413.8 539,413.8 539,414.7 538,414.7 538,407.1 537,407.1"/></clipPath><filter id="wblur" x="-20%" y="-50%" width="140%" height="200%"><feGaussianBlur stdDeviation="4"/></filter></defs>
<g stroke="#fffacd" stroke-width="1" fill="none"><polyline points="511.5,461.8 776.6,507.0 933.0,428.3 667.9,383.1 511.5,461.8"/><line x1="511.5" y1="461.8" x2="511.5" y2="302.5"/></g>
<g stroke="#fffacd" stroke-width="1" fill="none"><line x1="511.5" y1="461.8" x2="518.6" y2="458.2"/><line x1="667.9" y1="383.1" x2="660.8" y2="386.7"/><line x1="564.5" y1="470.8" x2="571.7" y2="467.2"/><line x1="720.9" y1="392.1" x2="713.8" y2="395.7"/><line x1="617.5" y1="479.9" x2="624.7" y2="476.3"/><line x1="773.9" y1="401.2" x2="766.8" y2="404.8"/><line x1="670.6" y1="488.9" x2="677.7" y2="485.3"/><line x1="827.0" y1="410.2" x2="819.8" y2="413.8"/><line x1="723.6" y1="498.0" x2="730.7" y2="494.4"/><line x1="880.0" y1="419.3" x2="872.8" y2="422.9"/><line x1="776.6" y1="507.0" x2="783.7" y2="503.4"/><line x1="933.0" y1="428.3" x2="925.9" y2="431.9"/><line x1="538.0" y1="466.3" x2="541.6" y2="464.5"/><line x1="694.4" y1="387.6" x2="690.8" y2="389.4"/><line x1="591.0" y1="475.4" x2="594.6" y2="473.6"/><line x1="747.4" y1="396.7" x2="743.9" y2="398.5"/><line x1="644.0" y1="484.4" x2="647.6" y2="482.6"/><line x1="800.5" y1="405.7" x2="796.9" y2="407.5"/><line x1="697.1" y1="493.4" x2="700.6" y2="491.6"/><line x1="853.5" y1="414.7" x2="849.9" y2="416.5"/><line x1="750.1" y1="502.5" x2="753.7" y2="500.7"/><line x1="906.5" y1="423.8" x2="902.9" y2="425.6"/><line x1="776.6" y1="507.0" x2="768.7" y2="505.7"/><line x1="511.5" y1="461.8" x2="519.4" y2="463.1"/><line x1="798.9" y1="495.8" x2="791.1" y2="494.4"/><line x1="533.8" y1="450.6" x2="541.7" y2="451.9"/><line x1="821.3" y1="484.5" x2="813.4" y2="483.2"/><line x1="556.2" y1="439.3" x2="564.1" y2="440.7"/><line x1="843.6" y1="473.3" x2="835.7" y2="471.9"/><line x1="578.5" y1="428.1" x2="586.4" y2="429.4"/><line x1="866.0" y1="462.0" x2="858.1" y2="460.7"/><line x1="600.9" y1="416.8" x2="608.8" y2="418.2"/><line x1="888.3" y1="450.8" x2="880.4" y2="449.4"/><line x1="623.2" y1="405.6" x2="631.1" y2="406.9"/><line x1="910.7" y1="439.5" x2="902.8" y2="438.2"/><line x1="645.6" y1="394.3" x2="653.4" y2="395.7"/><line x1="933.0" y1="428.3" x2="925.1" y2="427.0"/><line x1="667.9" y1="383.1" x2="675.8" y2="384.4"/><line x1="511.5" y1="302.5" x2="519.5" y2="302.5"/><line x1="511.5" y1="328.9" x2="519.5" y2="328.9"/><line x1="511.5" y1="355.3" x2="519.5" y2="355.3"/><line x1="511.5" y1="381.8" x2="519.5" y2="381.8"/><line x1="511.5" y1="408.2" x2="519.5" y2="408.2"/><line x1="511.5" y1="434.6" x2="519.5" y2="434.6"/><line x1="511.5" y1="461.0" x2="519.5" y2="461.0"/></g>
<g clip-path="url(#wfclip)"><rect x="530" y="295" width="360" height="175" fill="#5486be"/><polygon fill="#5b8ec4" points="535.0,290.0 881.0,290.0 879.0,395.3 877.6,396.4 877.0,395.9 873.5,402.9 873.0,396.9 868.7,406.3 870.0,398.9 867.0,404.6 867.0,403.1 860.8,418.1 865.0,405.9 859.6,418.6 862.0,452.9 860.2,455.2 859.0,447.4 853.9,459.2 856.0,443.9 849.8,458.9 854.0,443.3 849.6,453.0 852.0,441.8 850.8,442.3 850.0,439.5 845.2,450.4 848.0,437.1 841.8,452.1 846.0,435.2 841.8,444.3 842.0,435.6 839.7,439.4 840.0,437.3 837.0,442.9 838.0,438.9 833.1,450.1 835.0,441.8 830.0,453.1 833.0,443.5 829.0,452.0 830.0,446.1 823.8,461.1 828.0,447.8 822.1,461.9 826.0,447.3 819.8,462.3 824.0,443.8 822.7,444.7 822.0,443.1 820.6,444.3 819.0,446.2 817.9,446.5 816.0,446.9 813.5,451.2 814.0,442.1 809.6,451.7 811.0,440.8 809.4,442.4 808.0,439.4 806.7,440.3 805.0,440.4 798.8,455.4 802.0,442.0 795.8,457.0 800.0,443.0 793.8,458.0 797.0,445.8 796.0,445.8 795.0,448.1 788.8,463.1 791.0,450.6 788.7,454.2 789.0,449.7 787.1,452.3 787.0,447.3 780.8,462.3 784.0,444.6 781.6,448.7 782.0,443.2 776.2,457.0 780.0,443.5 778.9,443.8 777.0,446.5 770.8,461.5 775.0,448.7 768.8,463.7 772.0,453.1 768.4,460.7 769.0,462.8 762.9,477.5 767.0,471.5 762.2,482.4 764.0,482.4 762.7,483.3 762.0,484.7 758.4,492.1 758.0,479.8 756.5,481.3 756.0,477.5 751.1,488.5 753.0,475.1 746.8,490.1 750.0,474.8 743.8,489.8 748.0,475.3 741.8,490.3 744.0,475.5 742.3,477.6 742.0,473.1 739.5,477.5 738.0,469.4 733.3,479.9 736.0,467.8 729.8,482.8 734.0,470.6 732.2,473.0 730.0,476.3 726.9,482.2 728.0,478.3 722.4,491.3 725.0,477.8 723.5,479.3 722.0,475.7 715.8,490.7 719.0,473.5 716.9,476.8 717.0,471.2 712.9,480.1 715.0,469.1 711.2,477.0 712.0,464.5 709.1,469.9 709.0,457.9 707.8,458.5 705.0,453.1 698.8,468.1 703.0,452.1 696.8,467.1 701.0,451.1 697.2,459.0 699.0,450.7 696.9,453.9 697.0,450.6 691.7,463.0 694.0,450.6 687.8,465.6 690.0,451.3 688.1,454.0 687.0,452.2 682.1,463.5 685.0,452.8 678.8,467.8 683.0,453.4 681.6,454.5 680.0,455.9 677.7,459.7 677.0,458.8 670.8,473.8 675.0,459.2 668.8,474.2 671.0,457.0 664.8,472.0 668.0,453.1 667.0,453.2 665.0,449.1 658.8,464.1 662.0,447.6 660.2,450.0 660.0,447.4 653.8,462.4 657.0,446.9 653.2,454.8 653.0,448.1 651.2,450.4 651.0,449.5 644.8,464.5 647.0,452.0 643.4,459.5 643.0,451.7 640.9,454.9 640.0,450.8 633.8,465.8 638.0,450.2 631.8,465.2 635.0,446.8 628.8,461.8 631.0,440.9 625.0,455.3 628.0,436.5 625.2,441.5 626.0,437.3 619.8,452.1 623.0,438.7 618.3,449.3 620.0,441.1 613.8,455.9 618.0,441.5 616.7,442.3 614.0,440.0 607.8,455.0 611.0,438.8 609.1,441.4 608.0,439.6 603.6,449.4 605.0,441.6 599.7,453.8 603.0,443.0 599.4,450.4 601.0,444.4 598.3,449.2 598.0,445.0 593.5,455.1 596.0,445.4 592.3,453.0 594.0,445.9 587.8,460.9 591.0,445.7 584.8,460.7 588.0,443.6 582.5,456.6 586.0,442.3 582.7,448.8 583.0,440.7 581.3,442.6 580.0,442.3 575.9,451.1 578.0,443.3 574.6,450.2 576.0,444.1 569.8,459.1 573.0,444.5 570.8,448.0 569.0,443.9 566.3,448.8 565.0,444.5 560.6,454.1 563.0,445.1 558.5,455.0 559.0,453.7 557.1,456.3 556.0,416.0 553.2,421.0 554.0,422.0 551.3,426.8 551.0,424.1 546.9,432.8 549.0,425.4 544.1,436.5 545.0,426.4 538.8,441.4 543.0,426.0 537.3,439.3 540.0,426.7 538.0,429.5 535.0,433.7"/><polygon fill="#6498cb" points="535.0,290.0 881.0,290.0 879.0,383.1 876.1,388.5 877.0,385.1 874.7,388.8 875.0,387.2 872.8,390.6 872.0,390.2 865.8,405.1 870.0,392.0 867.4,396.6 867.0,394.0 861.4,407.3 863.0,392.9 858.2,403.9 861.0,431.8 858.0,437.6 858.0,427.2 852.4,440.5 854.0,424.3 849.0,435.7 852.0,423.1 847.9,432.0 850.0,421.4 845.4,431.7 847.0,418.9 840.8,433.9 845.0,418.1 838.8,433.1 842.0,420.2 839.7,423.8 838.0,425.1 833.8,434.1 836.0,427.6 834.4,429.3 833.0,429.4 831.7,430.2 830.0,430.0 827.3,434.9 826.0,428.5 819.8,443.5 823.0,425.0 821.2,427.3 821.0,428.2 820.0,428.3 817.0,433.4 814.0,438.9 814.0,430.0 812.1,432.5 812.0,430.2 808.4,437.6 809.0,430.4 807.9,430.5 806.0,430.8 801.3,441.4 803.0,431.7 798.7,441.3 799.0,433.2 797.8,433.9 797.0,435.3 795.5,436.8 795.0,437.4 792.0,443.0 792.0,439.3 788.6,446.2 790.0,439.7 788.5,441.0 787.0,437.4 784.8,440.8 784.0,435.9 782.1,438.5 781.0,435.1 774.8,450.1 779.0,435.2 777.8,435.7 776.0,435.4 773.0,441.0 772.0,437.2 766.8,449.2 769.0,447.1 762.8,462.1 767.0,456.0 765.9,456.1 764.0,467.1 757.8,482.1 761.0,467.2 754.8,482.2 759.0,463.8 757.8,464.2 755.0,457.1 749.8,469.1 751.0,454.3 744.8,469.3 749.0,453.7 747.4,455.5 746.0,454.1 742.9,460.2 742.0,454.4 740.6,455.6 740.0,454.9 734.8,467.0 736.0,456.8 729.8,471.8 734.0,456.7 729.2,467.6 730.0,456.7 723.8,471.7 726.0,455.4 719.8,470.4 722.0,455.7 715.8,470.7 718.0,455.5 711.8,470.5 715.0,454.4 708.8,469.4 713.0,453.5 709.6,460.4 709.0,447.6 704.2,458.4 706.0,442.8 699.8,457.8 704.0,441.4 701.6,445.3 702.0,439.9 699.6,444.1 699.0,438.8 693.7,451.2 696.0,439.4 690.2,453.2 693.0,440.0 686.8,455.0 691.0,440.9 687.9,446.9 688.0,441.2 684.7,447.8 685.0,441.6 678.8,456.6 683.0,441.8 678.8,450.9 680.0,443.6 678.9,443.9 678.0,445.2 675.8,448.5 674.0,445.5 671.2,450.7 671.0,442.3 666.3,453.0 669.0,439.1 665.6,445.8 667.0,435.9 661.8,447.9 665.0,432.8 658.8,447.8 662.0,431.2 659.5,435.5 659.0,431.1 652.8,446.1 657.0,431.0 653.9,437.0 654.0,430.6 651.8,434.0 652.0,429.9 646.6,442.4 649.0,428.7 647.4,430.3 646.0,427.3 643.7,431.1 642.0,431.3 640.8,431.8 640.0,433.2 633.9,447.9 637.0,436.2 632.4,446.4 635.0,433.5 632.4,438.2 633.0,431.0 626.8,446.0 630.0,427.3 628.6,428.4 628.0,424.8 621.8,439.8 625.0,426.2 622.9,429.4 622.0,428.3 620.4,430.1 620.0,430.0 613.8,445.0 616.0,429.7 612.6,436.7 613.0,428.6 607.1,442.5 611.0,427.7 608.4,432.2 609.0,427.0 608.0,427.2 607.0,426.9 603.5,434.0 604.0,426.7 600.5,433.7 602.0,426.5 598.4,434.0 600.0,426.2 598.3,428.2 598.0,425.8 591.8,440.8 596.0,425.4 592.9,431.4 594.0,425.1 592.5,426.5 591.0,425.3 588.0,431.1 588.0,426.7 582.0,440.9 585.0,428.2 580.6,437.8 583.0,429.7 581.5,431.1 581.0,429.4 574.8,444.4 578.0,428.7 576.2,430.9 575.0,427.6 573.6,428.9 572.0,428.2 569.8,431.6 569.0,429.8 567.0,432.7 566.0,432.3 559.8,447.3 563.0,433.7 556.8,448.7 561.0,436.0 555.6,448.5 558.0,445.0 553.0,456.6 556.0,410.6 554.3,412.5 552.0,415.5 550.5,417.0 549.0,415.7 542.8,430.7 546.0,416.6 539.8,431.6 544.0,418.2 541.4,422.8 542.0,419.8 535.8,434.8 538.0,427.1 536.8,427.6 535.0,426.0"/><polygon fill="#6fa3d1" points="535.0,290.0 881.0,290.0 879.0,378.5 876.9,381.7 876.0,380.0 869.8,395.0 873.0,381.6 868.5,391.5 870.0,384.1 867.0,389.9 866.0,389.7 862.7,396.2 864.0,392.4 861.2,397.7 860.0,420.9 858.6,422.0 857.0,415.6 854.3,420.6 854.0,412.1 847.8,427.1 852.0,411.1 847.4,421.3 849.0,410.5 844.9,419.4 847.0,410.2 845.4,411.8 845.0,410.8 843.4,412.5 843.0,411.8 839.8,418.1 841.0,413.3 839.8,413.8 839.0,414.7 837.7,415.5 837.0,416.1 834.7,419.9 834.0,418.1 831.7,421.9 832.0,418.6 828.2,426.7 830.0,419.1 828.9,419.2 827.0,419.3 823.9,425.2 825.0,416.9 823.3,419.0 822.0,416.8 818.2,424.8 819.0,422.2 817.6,423.4 816.0,424.6 814.3,426.7 814.0,420.0 809.4,430.3 812.0,419.3 809.1,424.8 809.0,418.3 804.5,428.3 807.0,417.8 800.8,432.8 805.0,417.4 800.7,426.9 803.0,417.5 800.2,422.6 800.0,417.6 794.9,429.2 797.0,418.8 793.6,425.5 794.0,420.4 789.5,430.3 792.0,420.4 790.1,423.0 788.0,420.1 786.5,421.5 786.0,420.3 784.8,420.9 784.0,421.3 777.8,436.3 780.0,423.1 776.3,430.7 777.0,423.0 775.0,425.8 775.0,423.1 768.8,438.1 773.0,424.0 767.2,437.9 771.0,425.0 765.7,437.3 769.0,433.8 762.8,448.8 767.0,442.2 760.8,457.2 764.0,452.7 762.5,454.2 761.0,453.3 758.8,456.9 758.0,449.3 755.9,452.3 756.0,446.7 750.9,458.5 753.0,444.0 749.5,451.3 751.0,443.7 746.6,453.6 748.0,443.9 741.8,458.9 746.0,444.7 739.8,459.7 742.0,443.5 735.8,458.5 739.0,442.6 737.8,443.3 736.0,442.3 729.8,457.3 734.0,443.7 731.9,446.8 731.0,445.7 724.9,460.3 729.0,446.7 722.8,461.7 726.0,446.8 721.1,457.9 722.0,445.7 715.8,460.7 719.0,444.7 716.7,448.4 717.0,443.5 713.8,449.9 715.0,442.6 713.0,445.5 712.0,439.9 705.8,454.9 710.0,436.8 703.8,451.8 707.0,432.2 701.2,445.9 703.0,431.5 697.5,444.5 700.0,431.1 693.8,446.1 697.0,431.6 690.8,446.6 693.0,432.2 691.0,435.1 690.0,432.3 683.8,447.3 687.0,430.4 680.8,445.4 684.0,428.4 682.0,431.2 682.0,427.1 675.8,442.1 679.0,428.3 678.0,428.4 676.0,428.3 672.4,435.7 674.0,427.3 672.2,429.5 671.0,425.9 668.5,430.1 669.0,425.0 665.5,432.2 665.0,423.3 662.8,426.7 663.0,423.3 656.8,438.3 660.0,424.2 653.8,439.2 658.0,424.8 652.2,438.4 654.0,425.7 647.8,440.7 651.0,425.7 648.8,429.1 649.0,425.5 646.9,428.7 646.0,425.3 644.5,426.8 643.0,423.0 638.5,433.1 641.0,421.5 638.1,426.8 639.0,420.0 636.9,423.3 636.0,418.3 632.9,424.3 632.0,418.1 625.8,433.1 628.0,417.9 624.2,425.8 624.0,416.5 617.8,431.5 622.0,416.6 615.8,431.5 620.0,416.7 617.3,421.6 618.0,416.3 614.7,423.0 614.0,414.5 610.5,421.5 611.0,412.9 605.4,426.2 607.0,414.4 601.8,426.6 605.0,415.9 598.9,430.5 603.0,417.3 598.2,428.2 601.0,418.7 598.2,423.9 597.0,418.2 594.8,421.6 593.0,417.9 591.8,418.5 591.0,417.4 589.8,417.8 587.0,415.5 584.7,419.4 584.0,414.4 578.3,427.7 582.0,414.6 577.1,425.7 579.0,415.7 577.3,417.7 577.0,416.4 575.4,418.1 575.0,416.7 572.8,420.3 571.0,416.9 567.5,424.0 567.0,417.7 565.2,419.9 564.0,417.8 557.8,432.8 561.0,418.1 557.4,425.6 559.0,422.6 557.9,422.8 556.0,394.1 553.7,398.0 554.0,402.3 552.8,403.0 552.0,405.8 545.8,420.8 549.0,411.0 546.2,416.1 547.0,414.5 545.1,417.2 544.0,413.4 537.8,428.4 541.0,412.2 536.8,421.3 539.0,414.2 534.2,425.1 535.0,419.4"/><polygon fill="#7baed7" points="535.0,290.0 881.0,290.0 879.0,380.5 875.9,386.6 876.0,382.6 871.9,391.4 872.0,385.4 870.5,386.8 869.0,385.1 867.8,385.6 867.0,383.9 865.4,385.7 865.0,382.8 858.8,397.8 863.0,377.8 859.9,383.9 859.0,402.3 856.7,405.8 856.0,399.4 851.4,409.6 854.0,399.1 852.6,400.3 851.0,398.5 847.8,404.7 847.0,397.4 845.4,399.1 845.0,397.8 843.4,399.4 841.0,399.8 839.8,400.4 839.0,401.0 836.6,405.0 835.0,403.7 832.1,409.0 833.0,405.1 830.3,409.9 830.0,407.3 827.9,410.5 827.0,409.0 825.0,411.8 825.0,407.3 821.4,414.8 822.0,407.8 820.0,410.5 820.0,411.7 814.5,424.5 817.0,416.4 813.4,423.8 814.0,411.9 808.3,425.2 811.0,410.9 807.5,417.9 807.0,409.7 805.0,412.7 803.0,409.7 801.9,410.0 800.0,410.0 797.9,413.1 797.0,410.4 795.6,411.6 794.0,411.0 787.8,426.0 790.0,409.1 786.0,417.6 786.0,410.1 785.0,410.2 784.0,411.4 778.0,425.6 780.0,413.5 777.3,418.4 778.0,412.9 773.4,423.3 774.0,412.3 770.8,418.7 772.0,412.8 765.8,427.8 770.0,418.2 764.9,429.9 767.0,431.9 762.2,442.8 765.0,439.4 758.8,454.4 761.0,444.5 754.8,459.5 758.0,440.9 753.1,452.2 754.0,436.4 750.8,442.8 752.0,435.9 745.8,450.9 749.0,435.2 744.1,446.4 745.0,436.3 742.8,439.6 742.0,435.9 739.2,441.0 739.0,436.4 735.7,443.0 737.0,437.0 733.4,444.3 733.0,437.0 731.0,439.7 730.0,436.6 727.6,440.6 728.0,435.6 723.3,446.1 725.0,434.0 718.8,449.0 723.0,433.1 720.0,438.9 720.0,431.6 714.6,444.2 716.0,429.6 713.2,434.7 713.0,428.6 711.4,430.3 710.0,424.5 705.2,435.4 707.0,418.9 701.8,431.0 705.0,417.4 699.8,429.5 703.0,415.8 700.1,421.1 700.0,413.6 693.8,428.6 697.0,413.5 694.5,417.8 693.0,413.3 687.2,427.1 690.0,414.2 683.8,429.2 687.0,415.4 685.9,415.6 684.0,416.6 678.6,429.3 681.0,417.5 678.5,421.7 678.0,417.5 675.8,421.0 676.0,416.3 670.9,428.0 672.0,414.0 665.8,429.0 669.0,415.2 662.8,430.2 666.0,416.3 663.1,421.7 664.0,417.2 661.1,422.7 661.0,414.3 657.0,423.0 659.0,412.4 653.9,424.0 657.0,410.6 652.8,419.7 654.0,408.3 650.2,416.2 652.0,407.6 650.8,408.0 649.0,406.3 645.5,413.4 646.0,405.0 644.4,406.8 643.0,404.3 642.0,404.4 640.0,403.6 638.3,405.6 638.0,403.1 633.2,414.0 634.0,405.1 631.1,410.6 632.0,406.6 625.8,421.6 629.0,408.9 624.8,418.0 627.0,409.5 624.2,414.7 625.0,409.1 621.0,417.5 622.0,409.2 620.1,411.9 620.0,409.7 618.0,412.6 618.0,409.4 611.8,424.4 616.0,408.5 609.8,423.5 614.0,407.6 612.7,408.4 610.0,405.4 605.1,416.6 608.0,404.8 604.6,411.6 605.0,403.9 599.8,415.7 603.0,403.3 597.2,417.0 600.0,403.0 598.6,404.3 597.0,404.3 595.5,405.8 593.0,406.1 589.7,412.7 590.0,405.0 585.0,416.5 587.0,402.5 585.9,402.8 584.0,400.3 578.1,414.2 582.0,400.1 579.5,404.3 579.0,400.8 573.3,414.2 576.0,401.3 572.4,408.6 573.0,401.9 571.6,403.0 570.0,403.5 566.6,410.2 566.0,406.6 562.5,413.7 564.0,407.7 562.2,410.0 560.0,413.0 557.1,418.5 556.0,394.5 551.3,405.0 554.0,400.8 552.8,401.4 551.0,403.3 549.9,403.6 548.0,405.7 544.0,414.2 545.0,408.4 543.7,409.2 542.0,411.1 538.1,419.4 539.0,416.6 534.7,425.9 535.0,413.4"/><polygon fill="#88b9dd" points="535.0,290.0 881.0,290.0 879.0,371.5 876.5,375.8 877.0,371.2 875.7,372.0 875.0,370.8 871.0,379.4 873.0,370.5 870.5,374.6 871.0,370.1 869.9,370.4 869.0,372.9 867.8,373.5 865.0,378.4 862.1,383.7 861.0,401.3 859.0,404.3 858.0,394.8 856.4,396.6 856.0,391.2 851.4,401.5 853.0,388.2 850.6,392.1 851.0,389.7 845.7,401.9 849.0,391.1 845.2,399.2 847.0,392.6 845.8,393.1 843.0,395.8 841.8,396.3 840.0,394.3 838.8,394.9 838.0,393.4 835.1,398.9 836.0,392.5 834.0,395.5 834.0,393.6 832.1,396.3 832.0,396.0 830.8,396.5 830.0,398.5 825.2,409.3 828.0,401.0 824.4,408.3 825.0,399.5 822.6,403.4 821.0,397.8 814.9,412.5 818.0,400.5 817.0,400.6 815.0,398.4 812.0,404.1 811.0,396.5 808.7,400.3 809.0,396.4 802.8,411.4 805.0,398.8 802.6,402.9 801.0,403.0 799.6,404.0 797.0,405.7 790.8,420.7 795.0,406.4 793.5,407.7 793.0,406.7 791.2,408.9 790.0,405.2 788.9,405.5 788.0,403.7 785.3,408.6 786.0,402.3 780.3,415.7 784.0,401.7 782.3,403.7 782.0,401.3 779.8,404.6 780.0,400.5 778.2,402.9 777.0,398.8 774.4,403.5 773.0,397.7 769.1,405.9 769.0,408.6 764.3,419.1 766.0,422.3 764.5,423.8 764.0,430.4 759.5,440.5 760.0,430.7 753.8,445.7 758.0,428.4 751.8,443.4 756.0,426.2 749.8,441.2 752.0,422.8 745.8,437.8 750.0,421.7 743.8,436.7 748.0,421.2 741.8,436.2 744.0,421.3 741.0,427.1 740.0,422.5 733.8,437.5 738.0,423.8 731.8,438.8 734.0,425.5 729.9,434.3 732.0,425.9 728.0,434.6 729.0,426.3 726.5,430.5 727.0,425.7 723.6,432.5 725.0,425.2 718.8,440.2 722.0,424.3 715.8,439.3 719.0,423.4 714.2,434.2 717.0,422.3 712.7,431.8 713.0,420.4 708.5,430.3 711.0,417.3 708.3,422.1 707.0,411.0 700.8,426.0 704.0,410.2 702.6,411.2 701.0,409.3 694.8,424.3 699.0,408.8 694.8,417.8 696.0,407.7 694.8,408.2 693.0,406.6 689.2,414.5 691.0,406.3 689.0,409.3 689.0,407.0 686.7,410.7 686.0,408.0 682.2,416.1 683.0,409.1 678.0,420.5 680.0,410.4 678.6,411.5 678.0,411.4 676.7,412.2 676.0,411.2 674.7,412.0 672.0,409.7 670.9,410.0 670.0,409.1 666.0,417.7 666.0,407.9 659.8,422.9 664.0,407.3 662.2,409.5 662.0,406.5 660.9,406.9 658.0,404.7 653.8,413.8 656.0,403.8 650.2,417.5 654.0,402.8 651.8,406.2 652.0,401.7 645.8,416.7 650.0,400.5 647.0,406.3 648.0,399.2 646.9,399.6 644.0,398.1 642.2,400.5 640.0,398.6 638.4,400.2 638.0,398.8 633.1,409.9 636.0,398.0 632.6,405.0 632.0,394.6 628.0,403.3 629.0,392.1 627.4,393.9 627.0,392.0 623.6,398.8 625.0,393.5 620.4,403.6 622.0,396.3 617.7,405.7 620.0,398.6 616.2,406.7 618.0,399.0 611.8,414.0 616.0,397.6 612.0,406.1 613.0,395.6 608.7,405.1 611.0,394.0 607.2,402.0 607.0,392.7 604.3,397.6 604.0,392.2 602.7,393.0 602.0,391.9 599.8,395.4 599.0,393.2 597.9,393.5 596.0,395.5 594.0,398.5 592.0,398.7 590.8,399.3 589.0,397.9 586.1,403.3 586.0,397.2 584.3,399.3 584.0,396.9 582.7,397.8 581.0,396.3 578.4,400.8 577.0,394.6 574.1,399.9 574.0,392.8 572.2,395.1 572.0,392.3 565.8,407.3 570.0,391.7 567.8,395.3 567.0,391.7 562.6,401.4 565.0,391.9 561.4,399.4 562.0,394.3 555.8,409.3 560.0,400.5 558.5,401.9 556.0,389.1 551.2,400.0 554.0,396.3 552.9,396.6 552.0,399.0 549.8,402.4 550.0,401.6 547.3,406.4 548.0,404.2 542.4,417.4 545.0,406.3 541.5,413.5 542.0,407.3 536.0,421.6 540.0,409.4 537.6,413.3 535.0,407.9"/><polygon fill="#96c4e2" points="535.0,290.0 881.0,290.0 879.0,365.6 875.8,371.9 875.0,368.0 873.6,369.2 871.0,370.4 868.5,374.8 868.0,371.3 866.4,372.9 864.0,372.2 862.8,372.7 861.0,388.7 857.4,396.1 858.0,385.7 851.8,400.5 856.0,384.3 853.7,388.0 852.0,384.9 847.7,394.4 849.0,385.1 847.0,387.9 847.0,385.2 844.2,390.3 845.0,386.2 843.3,388.3 842.0,387.4 839.2,392.5 839.0,388.3 837.1,390.8 837.0,388.9 831.8,401.0 835.0,389.8 833.0,392.6 833.0,390.7 828.9,399.5 831.0,391.6 827.6,398.3 829.0,392.4 825.9,398.3 827.0,392.8 821.5,405.7 824.0,389.0 819.6,398.7 820.0,392.0 817.5,396.2 818.0,394.7 815.1,400.1 816.0,395.6 811.8,404.7 814.0,392.1 810.7,398.7 811.0,392.7 806.9,401.5 808.0,393.3 804.4,400.6 805.0,391.3 803.1,394.0 803.0,390.4 801.4,392.2 800.0,389.1 798.8,389.5 798.0,389.6 791.8,404.6 794.0,393.3 792.8,393.9 792.0,394.0 788.4,401.5 789.0,394.1 786.6,398.0 787.0,394.1 782.0,405.4 784.0,394.7 777.8,409.7 782.0,395.7 779.0,401.2 780.0,396.1 777.9,399.1 776.0,395.9 772.3,403.6 774.0,396.4 771.1,401.7 771.0,397.1 768.3,401.9 769.0,404.3 762.8,419.3 765.0,416.7 759.3,430.2 761.0,421.2 756.4,431.4 757.0,419.7 753.4,427.1 755.0,419.0 750.3,429.6 751.0,417.7 747.6,424.5 749.0,417.1 744.6,426.9 746.0,417.8 742.8,423.9 742.0,418.1 739.1,423.4 738.0,419.4 736.4,421.1 734.0,420.2 732.1,422.8 731.0,419.9 727.3,427.6 728.0,418.8 726.1,421.3 725.0,418.6 722.1,423.9 722.0,419.3 715.8,434.3 718.0,419.6 717.0,419.8 715.0,415.0 712.5,419.2 712.0,409.1 707.4,419.4 708.0,400.1 702.6,412.7 706.0,399.9 704.8,400.6 703.0,401.5 696.8,416.5 700.0,403.1 693.8,418.1 697.0,402.9 695.4,404.8 695.0,402.8 688.8,417.8 691.0,403.1 687.5,410.2 689.0,402.7 685.8,409.0 687.0,402.3 680.8,417.3 685.0,401.8 682.9,405.0 682.0,401.2 680.4,402.8 680.0,401.5 673.8,416.5 677.0,401.8 675.0,404.6 673.0,398.9 666.8,413.9 670.0,397.2 667.7,400.8 667.0,395.4 665.5,396.9 664.0,393.7 657.8,408.7 662.0,392.8 656.1,406.9 660.0,391.8 653.8,406.8 657.0,390.4 653.5,397.5 655.0,389.5 652.8,392.8 653.0,389.5 651.7,390.3 650.0,389.5 648.4,391.1 647.0,389.3 644.5,393.5 643.0,389.4 641.8,389.9 641.0,389.6 638.9,392.6 639.0,389.7 634.3,400.2 637.0,389.9 633.0,398.3 635.0,388.2 633.8,388.8 631.0,385.1 624.8,400.1 629.0,383.6 626.3,388.4 627.0,383.3 624.2,388.4 625.0,384.2 619.8,396.2 621.0,387.2 618.8,390.7 619.0,389.0 617.6,390.2 616.0,388.2 609.8,403.2 612.0,387.1 610.4,388.8 609.0,386.0 603.8,398.1 606.0,385.5 599.8,400.5 603.0,384.9 597.9,396.6 600.0,384.5 593.8,399.5 596.0,384.5 592.9,390.5 594.0,384.6 591.4,389.3 590.0,385.4 586.0,394.1 588.0,386.1 583.7,395.7 586.0,386.8 581.8,396.0 583.0,388.3 577.9,400.1 579.0,386.6 577.3,388.5 575.0,384.3 572.8,387.7 573.0,384.3 571.4,386.1 571.0,385.5 567.7,392.0 569.0,386.7 566.2,391.7 567.0,388.6 565.3,390.6 565.0,390.4 560.6,400.2 562.0,390.5 558.2,398.5 559.0,397.9 557.6,399.0 557.0,379.4 554.0,385.1 554.0,390.5 551.6,394.4 550.0,393.1 547.8,396.6 547.0,395.1 543.8,401.5 544.0,397.6 542.8,398.2 541.0,400.2 537.6,407.0 538.0,406.8 536.0,409.6 535.0,402.9"/><polygon fill="#a5cee7" points="535.0,290.0 881.0,290.0 879.0,358.6 877.7,359.4 876.0,360.2 872.0,368.9 873.0,361.8 871.1,364.2 870.0,363.3 868.7,364.0 866.0,364.6 864.5,366.0 863.0,361.9 859.8,368.1 861.0,378.0 858.1,383.3 857.0,372.8 855.9,373.0 853.0,371.1 850.2,376.3 849.0,371.4 846.1,376.8 847.0,371.6 845.6,372.6 844.0,373.2 842.8,373.7 841.0,374.3 839.6,375.3 839.0,375.1 837.9,375.4 836.0,376.3 833.3,381.0 834.0,377.6 827.8,392.6 832.0,378.9 830.2,381.3 830.0,380.3 828.5,381.8 827.0,381.8 820.8,396.8 824.0,378.3 819.7,387.7 820.0,381.6 818.7,382.4 816.0,385.3 814.2,387.6 813.0,381.3 811.7,382.1 811.0,381.4 806.4,391.6 809.0,381.4 807.7,382.1 805.0,382.8 803.0,385.6 803.0,384.2 801.1,386.7 800.0,386.2 798.4,387.8 796.0,386.1 794.1,388.8 794.0,385.7 788.4,398.8 792.0,384.0 785.9,398.5 790.0,381.9 784.3,395.3 787.0,380.2 785.4,382.0 784.0,379.3 779.9,388.1 782.0,379.2 780.1,381.7 778.0,381.3 776.9,381.6 776.0,382.8 774.8,383.3 773.0,386.0 770.7,389.6 771.0,387.0 766.6,396.7 769.0,394.3 765.9,400.3 765.0,406.8 762.4,411.4 763.0,412.3 759.3,419.9 761.0,411.6 754.8,426.6 759.0,410.9 752.8,425.9 755.0,410.0 751.4,417.4 753.0,408.8 750.8,412.2 751.0,407.0 749.8,407.4 749.0,405.2 742.8,420.2 745.0,403.6 742.8,407.1 741.0,405.9 735.9,417.6 739.0,407.7 733.7,420.0 735.0,410.5 728.8,425.5 733.0,410.1 731.6,411.3 730.0,409.5 727.2,414.6 728.0,408.3 726.9,408.6 725.0,406.6 723.1,409.2 721.0,404.6 717.4,412.1 717.0,402.3 715.9,402.5 714.0,401.6 710.5,408.8 710.0,397.2 705.7,406.5 707.0,392.1 702.8,401.1 705.0,391.1 703.4,392.7 702.0,389.6 699.7,393.2 698.0,388.3 695.1,393.8 696.0,388.0 689.8,403.0 694.0,387.7 687.8,402.7 691.0,387.8 685.4,400.9 688.0,389.7 686.6,390.9 686.0,390.9 683.0,396.6 683.0,392.8 678.8,401.9 680.0,393.5 676.9,399.4 678.0,393.6 674.1,402.0 676.0,392.5 673.4,397.1 674.0,390.8 667.8,405.8 670.0,389.5 664.6,402.1 668.0,389.3 662.2,403.1 664.0,388.8 662.6,390.0 662.0,388.3 660.9,388.6 660.0,387.8 658.0,390.8 657.0,387.1 653.8,393.5 655.0,386.7 653.3,388.7 653.0,386.2 650.2,391.4 651.0,385.8 646.8,395.0 649.0,385.2 646.7,388.9 646.0,384.2 644.1,386.7 644.0,383.2 641.9,386.3 640.0,381.2 634.6,393.8 636.0,379.4 634.8,379.8 633.0,378.5 631.9,378.8 630.0,377.7 628.8,378.1 627.0,377.6 621.9,389.4 624.0,378.8 619.3,389.4 622.0,380.4 618.6,387.2 619.0,382.9 612.8,397.9 616.0,381.0 614.5,382.4 614.0,379.7 611.8,383.1 612.0,378.4 609.9,381.4 610.0,376.8 606.4,384.1 606.0,379.5 604.4,381.1 603.0,381.5 601.8,382.2 599.0,382.5 592.8,397.5 595.0,381.8 593.6,382.9 593.0,381.5 591.4,383.1 591.0,380.4 589.9,380.7 588.0,377.6 586.4,379.2 585.0,374.7 581.0,383.2 583.0,373.3 579.9,379.4 580.0,376.1 577.8,379.6 578.0,377.8 575.2,382.8 575.0,380.0 573.7,380.9 572.0,380.7 570.7,381.6 570.0,380.7 566.2,388.6 567.0,381.4 565.5,382.8 564.0,381.3 559.7,390.8 562.0,379.7 560.3,381.6 560.0,382.7 558.8,383.3 558.0,386.6 556.9,386.9 556.0,372.6 554.2,374.8 552.0,385.6 550.7,386.3 549.0,391.9 547.4,393.5 545.0,396.1 543.8,396.6 542.0,396.3 540.2,398.5 540.0,397.7 538.7,398.7 535.0,398.5"/><polygon fill="#b5d8ec" points="535.0,290.0 881.0,290.0 879.0,359.5 877.3,361.6 876.0,361.7 872.9,367.7 874.0,363.2 872.0,366.1 871.0,365.3 868.6,369.3 867.0,366.4 862.8,375.4 863.0,363.6 862.0,363.7 861.0,376.6 858.9,379.9 858.0,372.7 857.0,372.8 854.0,370.6 850.2,378.6 851.0,370.0 849.4,371.8 848.0,369.1 844.3,376.9 844.0,369.4 840.4,376.9 841.0,368.9 836.5,378.8 838.0,368.3 835.4,372.9 835.0,368.1 828.9,382.6 832.0,369.8 829.2,375.0 830.0,370.8 828.9,371.1 828.0,371.9 824.1,380.1 825.0,369.7 820.0,381.3 823.0,367.6 822.0,367.7 819.0,374.3 816.6,378.4 817.0,376.4 815.1,379.0 815.0,375.2 813.7,375.9 812.0,374.6 807.3,385.2 810.0,375.3 808.9,375.6 808.0,376.0 806.3,377.9 805.0,375.3 799.4,388.4 803.0,375.2 799.1,383.5 800.0,375.2 798.4,376.8 797.0,377.1 796.0,377.2 795.0,379.0 793.6,380.1 793.0,380.7 791.5,382.2 791.0,381.0 788.1,386.5 789.0,380.2 782.8,395.2 786.0,377.5 782.9,383.6 783.0,376.1 778.7,385.5 781.0,375.3 779.6,376.5 779.0,375.0 777.9,375.4 777.0,374.8 770.8,389.8 775.0,374.6 771.9,380.5 772.0,375.6 765.8,390.6 770.0,380.6 768.4,382.4 767.0,393.5 765.2,395.7 764.0,404.1 761.5,408.5 762.0,406.7 759.7,410.5 760.0,405.0 755.2,415.8 757.0,402.6 755.0,405.6 753.0,400.0 750.7,403.6 751.0,399.3 748.5,403.5 748.0,399.0 745.1,404.5 745.0,399.7 741.5,406.7 742.0,398.3 739.4,402.9 740.0,397.7 733.8,412.7 738.0,397.7 735.3,402.5 736.0,397.6 734.3,399.7 734.0,398.0 729.8,407.1 731.0,398.7 728.6,402.7 728.0,398.5 723.0,409.9 724.0,398.5 722.5,399.9 722.0,398.7 717.9,407.6 719.0,398.9 715.4,406.5 715.0,395.8 712.3,400.7 713.0,393.7 708.5,403.8 711.0,389.7 709.2,392.0 708.0,384.5 703.7,394.0 705.0,384.2 702.7,388.0 701.0,385.5 696.5,395.4 697.0,386.5 694.6,390.4 694.0,387.0 687.8,402.0 691.0,388.0 684.8,403.0 688.0,387.8 684.0,396.3 686.0,387.7 683.1,393.1 684.0,387.5 682.9,388.0 680.0,387.1 674.6,399.6 678.0,386.8 672.0,401.0 676.0,385.4 673.9,388.4 674.0,383.3 670.6,390.1 672.0,381.7 668.7,388.4 668.0,379.7 666.7,380.4 664.0,377.8 661.6,381.9 662.0,377.3 659.8,380.7 660.0,376.9 654.8,388.9 657.0,376.3 654.6,380.2 653.0,376.7 648.9,385.5 649.0,378.3 646.7,382.0 646.0,379.4 640.8,391.5 644.0,378.4 641.9,381.6 640.0,376.5 638.9,376.8 637.0,375.1 632.5,385.1 635.0,374.4 632.2,379.5 632.0,373.5 625.8,388.5 628.0,372.3 626.9,372.6 624.0,370.0 622.5,371.5 621.0,369.5 616.8,378.6 617.0,370.6 615.6,371.8 614.0,372.6 611.0,378.4 610.0,375.1 605.4,385.2 606.0,376.1 599.8,391.1 603.0,376.9 602.0,377.0 601.0,377.4 599.9,377.7 599.0,375.3 597.6,376.6 595.0,371.2 590.9,380.1 592.0,368.1 590.6,369.4 589.0,368.2 585.6,375.2 587.0,368.3 585.7,369.0 585.0,368.3 583.0,371.3 582.0,369.2 581.0,369.3 579.0,369.9 576.8,373.3 575.0,370.4 573.8,370.9 572.0,370.5 570.8,371.0 569.0,370.7 567.8,371.2 567.0,371.5 565.4,373.3 564.0,372.7 562.8,373.4 560.0,379.4 558.5,380.8 558.0,385.9 556.6,387.0 556.0,377.6 553.1,383.0 554.0,383.8 550.6,390.5 552.0,385.3 550.8,385.9 549.0,387.6 547.3,389.6 546.0,389.0 544.9,389.2 542.0,388.7 540.8,389.2 539.0,391.1 535.6,398.1 535.0,394.7"/><polygon fill="#c5e1f0" points="535.0,290.0 881.0,290.0 879.0,352.4 877.6,353.6 876.0,353.3 873.9,356.5 874.0,353.8 872.3,355.7 872.0,354.4 870.8,355.0 869.0,357.1 866.6,361.1 865.0,361.6 863.3,363.7 861.0,370.7 859.8,371.1 858.0,366.5 856.7,367.3 855.0,364.2 853.8,364.7 852.0,363.2 849.6,367.1 849.0,361.4 846.5,365.6 846.0,360.0 844.2,362.2 843.0,360.6 841.8,361.2 839.0,363.5 834.8,372.8 837.0,365.0 832.7,374.3 834.0,367.5 832.9,367.7 831.0,369.2 829.9,369.5 829.0,370.3 827.8,370.8 827.0,370.9 825.9,371.3 823.0,364.9 819.7,371.5 820.0,368.2 817.0,373.9 817.0,370.3 810.8,385.3 814.0,367.8 809.3,378.4 812.0,368.6 808.2,376.7 809.0,369.8 808.0,369.9 806.0,369.4 804.7,370.2 804.0,368.9 801.6,372.8 802.0,368.5 800.8,369.0 800.0,368.2 797.3,373.0 796.0,371.2 793.3,376.1 794.0,373.3 792.1,375.8 792.0,374.2 788.0,382.7 790.0,374.6 788.7,375.5 788.0,373.8 781.8,388.8 785.0,372.8 781.0,381.4 783.0,373.0 781.4,374.6 781.0,373.1 778.4,377.7 778.0,372.5 776.9,372.8 776.0,372.1 773.4,376.6 773.0,372.5 767.9,384.1 771.0,373.0 764.8,388.0 769.0,381.1 767.0,384.0 765.0,395.1 762.7,398.7 763.0,401.4 758.8,410.4 761.0,400.0 759.6,401.2 759.0,398.8 755.8,404.9 756.0,397.1 753.5,401.4 753.0,395.6 750.2,400.8 750.0,394.7 748.1,397.4 748.0,394.7 746.7,395.7 746.0,395.1 744.7,396.1 743.0,395.0 737.8,406.9 740.0,394.7 733.8,409.5 737.0,395.3 732.8,404.5 735.0,395.2 733.0,398.0 732.0,394.2 728.6,400.9 730.0,393.6 727.0,399.2 728.0,392.1 725.7,395.9 724.0,392.4 720.6,399.3 722.0,393.1 717.3,403.6 719.0,394.0 718.0,394.2 716.0,392.6 712.6,399.6 714.0,391.3 709.3,401.8 710.0,385.3 709.0,385.3 708.0,381.7 704.6,388.4 706.0,379.8 699.8,394.8 704.0,379.1 702.6,380.2 701.0,378.1 699.0,380.9 699.0,377.7 697.2,380.0 696.0,377.0 691.9,385.8 693.0,376.3 690.5,380.6 690.0,377.1 683.8,392.1 687.0,379.6 680.9,394.1 685.0,381.2 683.7,382.0 682.0,383.7 680.8,384.3 679.0,382.6 677.2,384.8 677.0,381.6 673.6,388.6 675.0,379.1 673.6,380.3 672.0,375.7 667.9,384.5 668.0,372.4 664.5,379.5 665.0,369.8 659.8,381.8 662.0,370.3 659.0,376.0 658.0,372.6 654.1,380.9 656.0,373.7 654.1,376.4 654.0,374.2 647.8,389.2 651.0,373.7 645.7,386.0 649.0,373.1 646.9,376.2 647.0,372.6 645.7,373.5 644.0,370.4 642.4,372.2 641.0,367.5 639.7,368.5 639.0,365.6 636.1,371.1 637.0,363.6 633.4,371.1 635.0,363.1 633.5,364.6 632.0,362.6 630.5,363.9 629.0,362.0 627.4,363.8 626.0,362.7 624.3,364.7 623.0,364.2 620.4,368.8 619.0,367.4 612.8,382.4 616.0,366.1 611.4,376.4 613.0,364.9 611.9,365.2 610.0,363.3 608.8,363.8 608.0,363.3 604.9,369.3 604.0,363.5 599.8,372.7 601.0,363.6 599.6,364.8 599.0,362.9 597.7,363.6 596.0,362.0 594.3,364.1 594.0,361.4 592.4,363.1 592.0,360.9 590.3,362.9 588.0,360.7 585.9,363.8 584.0,360.8 582.7,361.6 581.0,361.5 578.3,366.4 578.0,361.8 576.1,364.4 575.0,361.8 573.7,362.5 572.0,361.7 568.4,369.2 569.0,361.6 567.4,363.3 565.0,362.8 562.6,366.7 563.0,364.2 561.2,366.5 561.0,367.3 556.4,377.5 558.0,377.6 555.1,382.9 555.0,378.0 551.9,383.9 553.0,380.6 551.8,381.1 551.0,382.8 549.6,384.0 549.0,385.0 547.1,387.6 547.0,387.2 545.7,387.9 545.0,386.4 544.0,386.4 542.0,385.2 540.9,385.5 539.0,386.8 537.8,387.2 535.0,390.8"/><polygon fill="#d3e9f4" points="535.0,290.0 881.0,290.0 879.0,362.4 876.9,365.7 877.0,363.6 875.8,364.2 874.0,365.3 871.1,370.8 871.0,367.0 869.9,367.2 869.0,367.9 867.7,368.8 865.0,369.5 861.9,375.6 861.0,369.8 859.6,371.0 859.0,365.8 857.3,367.8 855.0,361.3 853.9,361.7 851.0,359.6 849.7,360.4 848.0,357.6 846.1,360.1 846.0,356.6 844.7,357.6 843.0,356.5 841.3,358.4 840.0,357.1 838.7,357.9 837.0,357.6 834.3,362.5 834.0,358.9 830.8,365.3 832.0,360.0 829.1,365.3 830.0,361.0 828.3,363.2 828.0,362.1 825.0,367.8 826.0,360.9 823.9,364.0 824.0,359.5 822.8,360.1 822.0,360.3 820.9,360.7 820.0,363.3 818.2,365.6 818.0,366.1 814.7,372.7 816.0,365.7 813.3,370.5 814.0,360.4 812.9,360.7 812.0,359.0 808.3,366.8 808.0,356.2 807.0,356.3 806.0,356.6 804.5,358.0 803.0,357.7 801.5,359.0 800.0,359.0 797.1,364.4 797.0,360.5 794.5,364.8 795.0,361.6 793.8,362.3 793.0,362.4 789.3,370.1 791.0,361.9 789.8,362.5 788.0,360.7 785.4,365.3 784.0,359.6 781.0,365.4 780.0,359.9 777.8,363.2 778.0,360.3 776.3,362.1 776.0,360.7 772.5,367.9 772.0,363.1 767.2,373.9 769.0,371.3 765.6,378.1 765.0,384.2 762.1,389.8 763.0,390.0 760.1,395.3 761.0,388.8 759.5,390.2 757.0,386.6 753.2,394.5 753.0,384.3 750.1,389.6 750.0,381.8 746.1,390.2 748.0,380.7 745.8,384.1 746.0,380.2 741.9,388.9 743.0,378.7 737.8,390.6 741.0,377.6 739.1,380.1 739.0,377.0 737.9,377.4 736.0,376.4 734.0,379.2 734.0,377.8 730.6,384.8 731.0,379.9 726.2,390.7 728.0,381.3 726.3,383.3 724.0,381.1 721.8,384.5 721.0,380.8 718.8,384.3 718.0,379.8 711.9,394.3 714.0,377.2 710.5,384.4 711.0,372.8 707.0,381.3 708.0,367.0 706.8,367.4 706.0,364.2 699.8,379.2 703.0,361.8 701.4,363.6 699.0,359.5 696.8,362.8 696.0,359.3 693.1,364.6 694.0,359.2 690.1,367.5 692.0,359.3 690.3,361.2 690.0,360.2 683.8,375.2 687.0,362.3 684.1,367.9 683.0,365.1 677.0,379.3 679.0,366.8 677.5,368.3 677.0,367.2 672.7,376.7 675.0,366.1 674.0,366.1 671.0,364.4 669.5,365.8 668.0,363.5 666.6,364.8 664.0,362.4 660.2,370.5 662.0,362.1 660.8,362.8 660.0,361.9 656.3,369.5 657.0,361.5 652.8,370.7 655.0,361.3 651.3,368.9 651.0,358.3 649.8,358.9 647.0,355.0 644.9,358.0 644.0,354.9 642.7,355.8 641.0,356.1 639.6,357.3 638.0,357.2 635.1,362.6 635.0,356.3 629.5,369.2 631.0,353.9 628.9,357.2 629.0,352.7 627.8,353.4 627.0,352.2 625.9,352.5 625.0,352.2 623.2,354.5 622.0,353.0 619.0,358.7 619.0,354.3 613.1,368.4 616.0,356.0 614.2,358.3 614.0,357.2 611.9,360.4 612.0,358.3 607.3,369.0 610.0,359.2 608.7,360.0 606.0,358.7 604.5,360.2 604.0,358.5 602.2,360.6 601.0,358.1 596.7,367.5 599.0,358.1 592.8,373.1 595.0,358.0 593.5,359.4 592.0,358.1 590.2,360.5 589.0,359.2 587.5,360.5 587.0,359.8 585.5,361.4 585.0,360.5 583.0,363.4 581.0,361.4 578.3,366.3 578.0,360.8 571.8,375.8 575.0,359.9 572.8,363.3 572.0,358.9 570.1,361.4 569.0,358.0 567.4,359.7 567.0,358.0 563.7,364.7 564.0,358.8 560.7,365.5 562.0,360.3 558.9,366.3 558.0,374.4 556.6,375.6 554.0,385.4 552.8,386.0 552.0,387.7 550.8,388.2 550.0,390.0 547.7,393.7 547.0,393.5 546.0,393.6 544.0,394.2 542.6,395.3 542.0,394.8 540.8,395.2 540.0,396.6 537.2,401.8 535.0,404.8"/><polygon fill="#deeff7" points="535.0,290.0 881.0,290.0 879.0,362.4 878.0,362.4 877.0,363.6 876.0,363.6 875.0,364.7 873.5,366.1 871.0,367.0 868.0,372.8 868.0,368.3 865.0,374.1 866.0,369.1 864.7,369.9 864.0,369.9 862.5,371.3 862.0,366.0 859.1,371.5 860.0,360.2 858.9,360.5 858.0,356.2 856.1,358.7 854.0,352.0 849.5,362.0 852.0,351.7 850.3,353.6 848.0,351.2 846.2,353.5 846.0,351.3 843.8,354.8 844.0,352.0 842.6,353.1 842.0,353.1 840.6,354.2 840.0,354.2 839.0,354.2 837.0,355.7 835.8,356.3 834.0,357.3 832.3,359.4 831.0,357.8 829.7,358.6 829.0,358.2 827.3,360.2 825.0,355.1 822.4,359.7 822.0,352.4 820.7,353.4 819.0,352.7 817.2,355.0 817.0,351.7 816.0,351.8 814.0,347.5 812.8,348.0 812.0,348.0 810.6,349.2 810.0,348.4 808.8,349.1 806.0,348.6 803.1,354.1 803.0,348.8 801.8,349.4 801.0,349.1 799.9,349.3 799.0,349.3 795.6,356.1 796.0,351.8 792.0,360.4 792.0,354.1 789.9,357.3 790.0,354.1 787.7,357.7 786.0,352.3 782.0,361.0 783.0,352.3 776.8,367.2 781.0,352.4 778.8,355.9 779.0,352.2 777.5,353.7 775.0,352.0 773.6,353.2 771.0,353.4 769.3,355.3 767.0,361.9 765.6,363.2 763.0,367.3 760.7,371.0 759.0,365.8 757.5,367.3 756.0,365.0 754.9,365.2 754.0,364.4 751.7,368.2 751.0,363.2 746.1,374.3 749.0,362.4 745.6,369.4 747.0,362.7 745.5,364.0 744.0,363.0 741.1,368.5 740.0,363.4 738.7,364.2 737.0,364.4 735.7,365.2 734.0,364.5 732.0,367.4 732.0,364.2 728.0,372.7 730.0,364.0 728.1,366.5 727.0,362.4 722.5,372.3 725.0,361.7 720.1,372.9 722.0,360.7 718.0,369.3 718.0,358.8 715.2,364.0 714.0,355.7 712.9,355.9 712.0,352.8 710.6,353.9 710.0,349.1 706.6,356.0 707.0,344.5 705.1,347.1 704.0,344.5 697.8,359.5 701.0,344.6 697.5,351.6 698.0,344.9 696.6,346.2 696.0,345.0 693.2,350.0 693.0,345.1 691.9,345.2 691.0,345.7 689.7,346.5 689.0,346.2 687.6,347.3 687.0,346.6 683.1,355.0 684.0,347.3 680.7,353.9 682.0,347.8 679.4,352.4 680.0,348.7 677.6,352.8 678.0,349.6 675.2,354.7 674.0,348.4 671.2,353.7 671.0,347.1 669.9,347.4 668.0,345.8 667.0,345.9 666.0,344.9 665.0,344.9 664.0,344.1 662.3,346.1 660.0,342.3 653.8,357.3 658.0,341.3 656.1,344.0 655.0,340.0 648.8,355.0 652.0,341.6 650.8,342.2 648.0,343.7 643.0,355.1 645.0,344.5 642.9,347.8 643.0,344.2 639.9,350.3 641.0,343.8 639.7,344.6 637.0,343.1 634.6,347.2 635.0,341.7 631.0,350.4 633.0,340.5 631.2,342.7 631.0,339.2 627.8,345.5 629.0,338.0 627.7,338.7 626.0,337.8 624.3,339.7 624.0,338.1 622.2,340.4 622.0,339.3 618.5,346.6 620.0,340.6 617.3,345.3 617.0,342.2 615.2,344.4 614.0,343.6 609.8,352.8 612.0,344.6 610.1,347.2 609.0,345.2 607.8,345.7 606.0,345.1 604.7,346.0 604.0,345.0 597.8,360.0 600.0,345.4 598.3,347.5 597.0,346.8 595.7,347.7 593.0,349.0 591.4,350.6 591.0,349.5 588.1,354.9 587.0,349.3 585.4,351.1 584.0,349.4 582.7,350.2 582.0,350.3 580.6,351.4 579.0,352.0 575.3,359.6 576.0,353.5 574.8,354.1 572.0,354.4 570.2,356.5 569.0,354.6 567.0,357.4 566.0,355.7 562.0,364.2 562.0,359.1 560.1,361.7 559.0,371.1 556.7,374.9 555.0,383.9 553.7,384.6 553.0,386.6 551.5,388.0 550.0,390.0 548.5,391.5 546.0,393.8 544.4,395.6 543.0,394.5 541.1,397.0 539.0,398.2 536.0,403.8 535.0,404.8"/><polygon fill="#e6f3f8" points="535.0,290.0 881.0,290.0 879.0,362.4 877.5,363.8 877.0,363.6 875.1,366.0 873.0,365.9 871.9,366.2 871.0,367.0 869.5,368.4 868.0,368.3 866.5,369.9 866.0,369.1 864.7,370.0 864.0,369.9 861.3,374.6 860.0,363.1 858.6,364.1 857.0,354.3 856.0,354.3 853.0,349.8 849.2,357.8 851.0,348.3 848.8,351.7 849.0,346.9 847.4,348.7 846.0,345.0 845.0,345.2 843.0,344.8 840.8,348.1 839.0,345.6 837.9,345.9 837.0,346.0 834.9,349.0 834.0,347.9 832.9,348.2 831.0,351.3 829.8,351.9 828.0,354.8 822.6,367.4 826.0,354.8 824.8,355.3 823.0,351.1 821.5,352.6 821.0,350.3 818.1,355.7 817.0,347.3 814.2,352.5 814.0,340.4 810.4,347.8 810.0,338.5 807.5,342.7 808.0,337.5 806.5,339.0 804.0,337.8 802.8,338.4 800.0,338.8 795.7,348.3 796.0,340.4 794.4,342.0 792.0,341.0 790.8,341.6 789.0,339.4 787.9,339.8 787.0,337.7 784.7,341.3 785.0,336.4 782.8,339.9 782.0,335.4 780.7,336.4 780.0,335.1 777.1,340.6 778.0,335.0 775.2,340.2 775.0,334.9 773.0,337.7 771.0,337.2 767.2,345.1 768.0,343.4 766.7,344.4 766.0,346.3 763.7,350.1 762.0,349.3 759.7,353.0 759.0,347.9 757.0,350.6 755.0,346.3 753.7,347.3 753.0,345.2 750.4,349.7 751.0,343.5 749.4,345.4 748.0,341.8 746.6,342.8 744.0,341.1 741.7,344.9 741.0,341.7 739.4,343.5 738.0,342.8 736.3,344.8 735.0,343.6 733.3,345.6 732.0,343.6 729.6,347.7 729.0,343.4 727.8,343.9 725.0,342.7 722.5,347.1 722.0,343.2 720.6,344.4 719.0,343.5 716.8,347.0 715.0,340.0 711.1,348.3 712.0,335.6 710.8,336.2 710.0,331.3 707.8,334.8 706.0,326.6 704.6,327.9 704.0,326.7 702.3,328.6 702.0,326.8 699.2,331.9 700.0,327.2 696.2,335.1 698.0,326.8 695.5,331.2 696.0,326.5 694.2,328.7 694.0,326.2 692.2,328.5 690.0,327.0 688.2,329.3 686.0,330.3 682.3,338.1 683.0,332.8 681.7,333.7 681.0,333.9 679.2,336.3 679.0,334.5 676.5,338.8 676.0,334.2 674.9,334.5 672.0,331.6 669.4,336.3 670.0,329.9 668.9,330.1 668.0,328.2 667.0,328.3 665.0,325.7 661.8,332.1 661.0,325.1 659.4,326.8 658.0,325.2 656.4,326.8 655.0,325.3 654.0,325.4 651.0,325.6 644.8,340.6 647.0,325.9 643.3,333.5 644.0,326.0 642.7,326.7 640.0,326.1 636.9,332.0 638.0,326.2 636.0,329.0 636.0,326.4 634.4,328.0 633.0,327.2 630.7,330.9 630.0,328.0 628.5,329.6 627.0,328.4 625.1,331.0 625.0,327.9 623.4,329.5 622.0,328.0 619.4,332.4 619.0,328.6 617.0,331.4 615.0,331.3 610.4,341.4 613.0,332.6 610.9,335.7 609.0,334.4 606.3,339.4 606.0,335.0 604.3,336.9 602.0,335.7 598.9,341.7 600.0,336.2 598.9,336.6 597.0,337.0 590.9,351.5 594.0,338.0 592.2,340.3 590.0,340.0 588.9,340.3 587.0,342.0 585.3,343.9 585.0,343.3 583.2,345.7 582.0,345.7 580.1,348.1 579.0,347.0 576.6,350.9 576.0,348.1 570.4,361.3 573.0,349.1 569.4,356.6 571.0,350.1 569.0,353.1 569.0,351.2 567.1,353.6 567.0,352.9 564.5,357.1 565.0,354.5 562.0,360.3 563.0,356.7 561.1,359.4 561.0,360.7 559.9,360.8 559.0,370.8 557.8,371.4 557.0,373.1 553.4,380.7 553.0,386.6 551.6,387.6 550.0,390.0 548.3,392.0 547.0,393.5 545.4,395.1 544.0,394.2 542.8,394.9 540.0,396.6 538.3,398.7 538.0,399.8 536.0,402.8 535.0,404.8"/><g filter="url(#wblur)"><polygon points="588,347.0 710,291.0 710,309.0 588,365.0" fill="#fdf3d6" opacity="0.6"/><polygon points="650,367.0 778,317.0 778,343.0 650,393.0" fill="#fdf3d6" opacity="0.6"/><polygon points="700,391.0 800,347.0 800,361.0 700,405.0" fill="#fdf3d6" opacity="0.4"/><polygon points="766,381.0 858,338.0 858,356.0 766,399.0" fill="#fdf3d6" opacity="0.65"/><polygon points="560,367.0 625,337.0 625,347.0 560,377.0" fill="#fdf3d6" opacity="0.3"/><polygon points="600,379.0 660,352.0 660,364.0 600,391.0" fill="#fdf3d6" opacity="0.25"/></g></g>
<polygon points="623.4,311.8 758.3,241.5 758.3,400.5 623.4,470" fill="none" stroke="#f01414" stroke-width="1.1"/>
<text transform="translate(494.50,308.30)" x="-10.19" y="0" textLength="10.19" lengthAdjust="spacingAndGlyphs" fill="#f7f2c6" font-size="16.3">0</text>
<text transform="translate(494.50,334.72)" x="-26.16" y="0" textLength="26.16" lengthAdjust="spacingAndGlyphs" fill="#f7f2c6" font-size="16.3">-20</text>
<text transform="translate(494.50,361.14)" x="-26.16" y="0" textLength="26.16" lengthAdjust="spacingAndGlyphs" fill="#f7f2c6" font-size="16.3">-40</text>
<text transform="translate(494.50,387.56)" x="-26.16" y="0" textLength="26.16" lengthAdjust="spacingAndGlyphs" fill="#f7f2c6" font-size="16.3">-60</text>
<text transform="translate(494.50,413.98)" x="-26.16" y="0" textLength="26.16" lengthAdjust="spacingAndGlyphs" fill="#f7f2c6" font-size="16.3">-80</text>
<text transform="translate(494.50,440.40)" x="-36.34" y="0" textLength="36.34" lengthAdjust="spacingAndGlyphs" fill="#f7f2c6" font-size="16.3">-100</text>
<text transform="translate(494.50,466.82)" x="-36.34" y="0" textLength="36.34" lengthAdjust="spacingAndGlyphs" fill="#f7f2c6" font-size="16.3">-120</text>
<text transform="translate(503.40,473.10)" x="-35.95" y="0" textLength="71.91" lengthAdjust="spacingAndGlyphs" fill="#f7f2c6" font-size="16.3">13:26:40</text>
<text transform="translate(556.90,482.25)" x="-35.95" y="0" textLength="71.91" lengthAdjust="spacingAndGlyphs" fill="#f7f2c6" font-size="16.3">13:27:00</text>
<text transform="translate(610.40,491.40)" x="-35.95" y="0" textLength="71.91" lengthAdjust="spacingAndGlyphs" fill="#f7f2c6" font-size="16.3">13:27:20</text>
<text transform="translate(663.90,500.55)" x="-35.95" y="0" textLength="71.91" lengthAdjust="spacingAndGlyphs" fill="#f7f2c6" font-size="16.3">13:27:40</text>
<text transform="translate(717.40,509.70)" x="-35.95" y="0" textLength="71.91" lengthAdjust="spacingAndGlyphs" fill="#f7f2c6" font-size="16.3">13:28:00</text>
<text transform="translate(770.90,518.85)" x="-35.95" y="0" textLength="71.91" lengthAdjust="spacingAndGlyphs" fill="#f7f2c6" font-size="16.3">13:28:20</text>
<text transform="translate(818.80,516.20)" x="-20.38" y="0" textLength="40.75" lengthAdjust="spacingAndGlyphs" fill="#f7f2c6" font-size="16.3">1210</text>
<text transform="translate(840.53,504.67)" x="-20.38" y="0" textLength="40.75" lengthAdjust="spacingAndGlyphs" fill="#f7f2c6" font-size="16.3">1215</text>
<text transform="translate(862.26,493.14)" x="-20.38" y="0" textLength="40.75" lengthAdjust="spacingAndGlyphs" fill="#f7f2c6" font-size="16.3">1220</text>
<text transform="translate(883.99,481.61)" x="-20.38" y="0" textLength="40.75" lengthAdjust="spacingAndGlyphs" fill="#f7f2c6" font-size="16.3">1225</text>
<text transform="translate(905.72,470.08)" x="-20.38" y="0" textLength="40.75" lengthAdjust="spacingAndGlyphs" fill="#f7f2c6" font-size="16.3">1230</text>
<text transform="translate(927.45,458.55)" x="-20.38" y="0" textLength="40.75" lengthAdjust="spacingAndGlyphs" fill="#f7f2c6" font-size="16.3">1235</text>
<text transform="translate(949.18,447.02)" x="-20.38" y="0" textLength="40.75" lengthAdjust="spacingAndGlyphs" fill="#f7f2c6" font-size="16.3">1240</text>
<text transform="translate(970.91,435.49)" x="-20.38" y="0" textLength="40.75" lengthAdjust="spacingAndGlyphs" fill="#f7f2c6" font-size="16.3">1245</text>
<text transform="translate(438.50,382.00) rotate(-90)" x="-43.23" y="0" textLength="86.47" lengthAdjust="spacingAndGlyphs" fill="#f7f2c6" font-size="16.3">PSD (dBm)</text>
<text transform="translate(597.46,511.20) rotate(12)" x="-44.26" y="0" textLength="88.52" lengthAdjust="spacingAndGlyphs" fill="#f7f2c6" font-size="16.3">Time (UTC)</text>
<text transform="translate(934.44,486.11) rotate(-27)" x="-67.26" y="0" textLength="134.52" lengthAdjust="spacingAndGlyphs" fill="#f7f2c6" font-size="16.3">Frequency (MHz)</text>
<g shape-rendering="crispEdges" stroke="#fffacd" stroke-width="1" fill="none">
<line x1="90.5" y1="648.5" x2="991.5" y2="648.5" stroke="#c4c4c4" stroke-dasharray="2 2"/>
<line x1="90.5" y1="678.0" x2="991.5" y2="678.0" stroke="#c4c4c4" stroke-dasharray="2 2"/>
<line x1="270.5" y1="632.5" x2="270.5" y2="707.5" stroke="#c4c4c4" stroke-dasharray="2 2"/>
<line x1="450.5" y1="632.5" x2="450.5" y2="707.5" stroke="#c4c4c4" stroke-dasharray="2 2"/>
<line x1="631.5" y1="632.5" x2="631.5" y2="707.5" stroke="#c4c4c4" stroke-dasharray="2 2"/>
<line x1="811.5" y1="632.5" x2="811.5" y2="707.5" stroke="#c4c4c4" stroke-dasharray="2 2"/>
<rect x="90.5" y="632.5" width="901.0" height="75.0"/>
<line x1="90.5" y1="632.5" x2="90.5" y2="640.5"/><line x1="90.5" y1="707.5" x2="90.5" y2="699.5"/>
<line x1="180.5" y1="632.5" x2="180.5" y2="636.5"/><line x1="180.5" y1="707.5" x2="180.5" y2="703.5"/>
<line x1="270.5" y1="632.5" x2="270.5" y2="640.5"/><line x1="270.5" y1="707.5" x2="270.5" y2="699.5"/>
<line x1="360.5" y1="632.5" x2="360.5" y2="636.5"/><line x1="360.5" y1="707.5" x2="360.5" y2="703.5"/>
<line x1="450.5" y1="632.5" x2="450.5" y2="640.5"/><line x1="450.5" y1="707.5" x2="450.5" y2="699.5"/>
<line x1="540.5" y1="632.5" x2="540.5" y2="636.5"/><line x1="540.5" y1="707.5" x2="540.5" y2="703.5"/>
<line x1="631.5" y1="632.5" x2="631.5" y2="640.5"/><line x1="631.5" y1="707.5" x2="631.5" y2="699.5"/>
<line x1="721.5" y1="632.5" x2="721.5" y2="636.5"/><line x1="721.5" y1="707.5" x2="721.5" y2="703.5"/>
<line x1="811.5" y1="632.5" x2="811.5" y2="640.5"/><line x1="811.5" y1="707.5" x2="811.5" y2="699.5"/>
<line x1="901.5" y1="632.5" x2="901.5" y2="636.5"/><line x1="901.5" y1="707.5" x2="901.5" y2="703.5"/>
<line x1="991.5" y1="632.5" x2="991.5" y2="640.5"/><line x1="991.5" y1="707.5" x2="991.5" y2="699.5"/>
<line x1="90.5" y1="648.5" x2="98.5" y2="648.5"/><line x1="991.5" y1="648.5" x2="983.5" y2="648.5"/>
<line x1="90.5" y1="678.0" x2="98.5" y2="678.0"/><line x1="991.5" y1="678.0" x2="983.5" y2="678.0"/>
</g>
<polyline points="135.6,693.1 144.6,691.9" fill="none" stroke="#fff200" stroke-width="1" stroke-linecap="square" shape-rendering="crispEdges"/>
<polyline points="162.6,692.5 171.6,691.3 180.6,691.3 189.6,687.2 198.6,691.6" fill="none" stroke="#fff200" stroke-width="1" stroke-linecap="square" shape-rendering="crispEdges"/>
<polyline points="216.6,690.3 217.1,690.3" fill="none" stroke="#fff200" stroke-width="1" stroke-linecap="square" shape-rendering="crispEdges"/>
<polyline points="234.7,689.7 243.7,687.5" fill="none" stroke="#fff200" stroke-width="1" stroke-linecap="square" shape-rendering="crispEdges"/>
<polyline points="261.7,682.2 270.7,706.9 279.7,678.1 288.7,675.9 297.7,678.8 306.7,682.8 315.8,688.8" fill="none" stroke="#fff200" stroke-width="1" stroke-linecap="square" shape-rendering="crispEdges"/>
<polyline points="333.8,675.0 342.8,690.6 351.8,671.3 360.8,672.8 369.8,674.4 378.8,666.3 387.8,682.2 396.8,659.4 405.8,649.4 414.9,646.4 423.9,652.5 432.9,675.0 441.9,669.4 450.9,669.4 459.9,679.1 468.9,672.5 477.9,680.6 486.9,682.8 495.9,695.3 505.0,707.2 514.0,678.8 523.0,675.0 532.0,707.2 541.0,676.6 550.0,682.8" fill="none" stroke="#fff200" stroke-width="1" stroke-linecap="square" shape-rendering="crispEdges"/>
<polyline points="568.0,677.2 577.0,691.6 586.0,689.1 595.1,683.8 604.1,707.2 613.1,677.5 622.1,684.4 631.1,688.4 640.1,693.8 649.1,684.4 658.1,689.1 667.1,693.1 676.1,692.2" fill="none" stroke="#fff200" stroke-width="1" stroke-linecap="square" shape-rendering="crispEdges"/>
<polyline points="694.2,677.2 703.2,693.5" fill="none" stroke="#fff200" stroke-width="1" stroke-linecap="square" shape-rendering="crispEdges"/>
<polyline points="784.3,693.0 784.7,693.0" fill="none" stroke="#fff200" stroke-width="1" stroke-linecap="square" shape-rendering="crispEdges"/>
<polyline points="802.3,694.0 802.7,694.0" fill="none" stroke="#fff200" stroke-width="1" stroke-linecap="square" shape-rendering="crispEdges"/>
<line x1="414.5" y1="632.5" x2="414.5" y2="707.5" stroke="#f01414" stroke-width="1.2"/>
<text transform="translate(78.00,654.00)" x="-26.16" y="0" textLength="26.16" lengthAdjust="spacingAndGlyphs" fill="#f7f2c6" font-size="16.3">-80</text>
<text transform="translate(78.00,683.50)" x="-36.34" y="0" textLength="36.34" lengthAdjust="spacingAndGlyphs" fill="#f7f2c6" font-size="16.3">-100</text>
<text transform="translate(78.00,713.00)" x="-36.34" y="0" textLength="36.34" lengthAdjust="spacingAndGlyphs" fill="#f7f2c6" font-size="16.3">-120</text>
<text transform="translate(89.00,731.00)" x="-35.95" y="0" textLength="71.91" lengthAdjust="spacingAndGlyphs" fill="#f7f2c6" font-size="16.3">13:26:40</text>
<text transform="translate(269.20,731.00)" x="-35.95" y="0" textLength="71.91" lengthAdjust="spacingAndGlyphs" fill="#f7f2c6" font-size="16.3">13:27:00</text>
<text transform="translate(449.40,731.00)" x="-35.95" y="0" textLength="71.91" lengthAdjust="spacingAndGlyphs" fill="#f7f2c6" font-size="16.3">13:27:20</text>
<text transform="translate(629.60,731.00)" x="-35.95" y="0" textLength="71.91" lengthAdjust="spacingAndGlyphs" fill="#f7f2c6" font-size="16.3">13:27:40</text>
<text transform="translate(809.80,731.00)" x="-35.95" y="0" textLength="71.91" lengthAdjust="spacingAndGlyphs" fill="#f7f2c6" font-size="16.3">13:28:00</text>
<text transform="translate(990.00,731.00)" x="-35.95" y="0" textLength="71.91" lengthAdjust="spacingAndGlyphs" fill="#f7f2c6" font-size="16.3">13:28:20</text>
</svg>
</body></html>
